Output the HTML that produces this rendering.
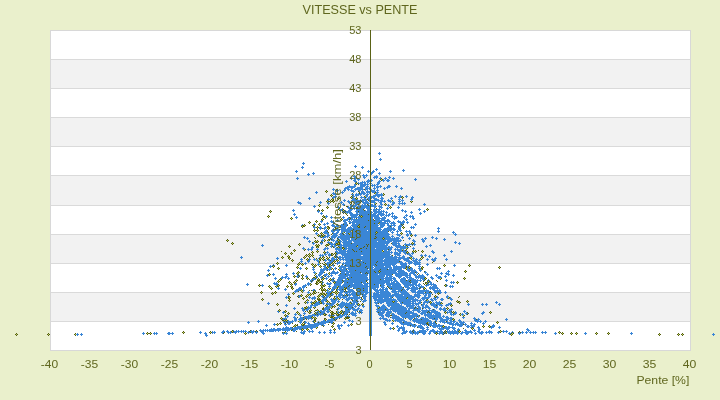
<!DOCTYPE html><html><head><meta charset="utf-8"><style>
html,body{margin:0;padding:0;width:720px;height:400px;overflow:hidden;background:#eaf0cc;}
body{position:relative;font-family:"Liberation Sans",sans-serif;}
svg{position:absolute;left:0;top:0;will-change:transform;}
text{font-family:"Liberation Sans",sans-serif;fill:#5f661e;stroke:#5f661e;stroke-width:0;}
</style></head><body>
<svg width="720" height="400" viewBox="0 0 720 400">

<g shape-rendering="crispEdges">
<rect x="50" y="30" width="640" height="29" fill="#ffffff"/>
<rect x="50" y="59" width="640" height="29" fill="#f2f2f2"/>
<rect x="50" y="88" width="640" height="29" fill="#ffffff"/>
<rect x="50" y="117" width="640" height="29" fill="#f2f2f2"/>
<rect x="50" y="146" width="640" height="29" fill="#ffffff"/>
<rect x="50" y="175" width="640" height="30" fill="#f2f2f2"/>
<rect x="50" y="205" width="640" height="29" fill="#ffffff"/>
<rect x="50" y="234" width="640" height="29" fill="#f2f2f2"/>
<rect x="50" y="263" width="640" height="29" fill="#ffffff"/>
<rect x="50" y="292" width="640" height="29" fill="#f2f2f2"/>
<rect x="50" y="321" width="640" height="29" fill="#ffffff"/>
<rect x="51" y="59" width="639" height="1" fill="#dadada"/>
<rect x="51" y="88" width="639" height="1" fill="#dadada"/>
<rect x="51" y="117" width="639" height="1" fill="#dadada"/>
<rect x="51" y="146" width="639" height="1" fill="#dadada"/>
<rect x="51" y="175" width="639" height="1" fill="#dadada"/>
<rect x="51" y="205" width="639" height="1" fill="#dadada"/>
<rect x="51" y="234" width="639" height="1" fill="#dadada"/>
<rect x="51" y="263" width="639" height="1" fill="#dadada"/>
<rect x="51" y="292" width="639" height="1" fill="#dadada"/>
<rect x="51" y="321" width="639" height="1" fill="#dadada"/>
<rect x="50" y="30" width="641" height="1" fill="#d8d8d8"/>
<rect x="50" y="350" width="641" height="1" fill="#d8d8d8"/>
<rect x="50" y="30" width="1" height="321" fill="#d8d8d8"/>
<rect x="690" y="30" width="1" height="321" fill="#d8d8d8"/>
</g>
<path shape-rendering="crispEdges" fill="#3a86d6" d="M379 152h1v1h-1zM378 153h3v1h-3zM379 154h1v1h-1zM380 158h1v1h-1zM379 159h3v1h-3zM380 160h1v1h-1zM303 162h1v1h-1zM302 163h3v1h-3zM303 164h1v1h-1zM355 165h1v1h-1zM302 166h1v1h-1zM354 166h3v1h-3zM362 166h1v1h-1zM301 167h3v1h-3zM355 167h1v1h-1zM361 167h3v1h-3zM302 168h1v1h-1zM362 168h1v1h-1zM376 168h1v1h-1zM375 169h3v1h-3zM403 169h1v1h-1zM296 170h1v1h-1zM368 170h1v1h-1zM373 170h1v1h-1zM376 170h1v1h-1zM390 170h1v1h-1zM402 170h3v1h-3zM295 171h3v1h-3zM367 171h3v1h-3zM372 171h3v1h-3zM389 171h3v1h-3zM403 171h1v1h-1zM296 172h1v1h-1zM313 172h1v1h-1zM368 172h1v1h-1zM371 172h3v1h-3zM379 172h1v1h-1zM390 172h1v1h-1zM308 173h1v1h-1zM312 173h3v1h-3zM370 173h3v1h-3zM378 173h3v1h-3zM307 174h3v1h-3zM313 174h1v1h-1zM363 174h1v1h-1zM366 174h1v1h-1zM371 174h1v1h-1zM379 174h1v1h-1zM308 175h1v1h-1zM354 175h1v1h-1zM362 175h6v1h-6zM376 175h1v1h-1zM353 176h3v1h-3zM363 176h2v1h-2zM366 176h1v1h-1zM374 176h4v1h-4zM389 176h1v1h-1zM297 177h1v1h-1zM351 177h1v1h-1zM354 177h2v1h-2zM363 177h3v1h-3zM373 177h5v1h-5zM380 177h1v1h-1zM385 177h1v1h-1zM388 177h3v1h-3zM393 177h1v1h-1zM296 178h3v1h-3zM350 178h3v1h-3zM354 178h3v1h-3zM358 178h1v1h-1zM364 178h1v1h-1zM374 178h1v1h-1zM376 178h1v1h-1zM379 178h2v1h-2zM384 178h3v1h-3zM389 178h1v1h-1zM392 178h3v1h-3zM415 178h1v1h-1zM297 179h1v1h-1zM351 179h1v1h-1zM354 179h2v1h-2zM357 179h3v1h-3zM368 179h1v1h-1zM371 179h1v1h-1zM383 179h1v1h-1zM385 179h1v1h-1zM387 179h2v1h-2zM393 179h1v1h-1zM414 179h3v1h-3zM346 180h1v1h-1zM353 180h3v1h-3zM358 180h1v1h-1zM367 180h6v1h-6zM379 180h1v1h-1zM382 180h3v1h-3zM386 180h4v1h-4zM415 180h1v1h-1zM345 181h3v1h-3zM354 181h3v1h-3zM362 181h1v1h-1zM364 181h1v1h-1zM366 181h4v1h-4zM371 181h1v1h-1zM378 181h3v1h-3zM383 181h1v1h-1zM387 181h2v1h-2zM346 182h1v1h-1zM355 182h1v1h-1zM358 182h1v1h-1zM360 182h6v1h-6zM367 182h2v1h-2zM370 182h1v1h-1zM377 182h3v1h-3zM358 183h5v1h-5zM364 183h2v1h-2zM367 183h1v1h-1zM369 183h3v1h-3zM377 183h3v1h-3zM354 184h2v1h-2zM360 184h9v1h-9zM370 184h1v1h-1zM372 184h1v1h-1zM374 184h1v1h-1zM376 184h3v1h-3zM349 185h1v1h-1zM354 185h2v1h-2zM360 185h6v1h-6zM367 185h1v1h-1zM371 185h5v1h-5zM377 185h1v1h-1zM380 185h1v1h-1zM388 185h2v1h-2zM396 185h1v1h-1zM347 186h9v1h-9zM360 186h5v1h-5zM366 186h3v1h-3zM372 186h1v1h-1zM374 186h1v1h-1zM376 186h6v1h-6zM387 186h4v1h-4zM395 186h3v1h-3zM345 187h10v1h-10zM357 187h6v1h-6zM365 187h3v1h-3zM369 187h1v1h-1zM374 187h1v1h-1zM376 187h3v1h-3zM380 187h1v1h-1zM384 187h1v1h-1zM386 187h4v1h-4zM396 187h1v1h-1zM401 187h1v1h-1zM333 188h1v1h-1zM344 188h5v1h-5zM351 188h2v1h-2zM355 188h8v1h-8zM365 188h6v1h-6zM373 188h3v1h-3zM377 188h1v1h-1zM383 188h3v1h-3zM387 188h1v1h-1zM400 188h3v1h-3zM332 189h3v1h-3zM336 189h2v1h-2zM344 189h2v1h-2zM347 189h3v1h-3zM351 189h1v1h-1zM354 189h10v1h-10zM365 189h3v1h-3zM369 189h1v1h-1zM371 189h1v1h-1zM374 189h1v1h-1zM377 189h1v1h-1zM384 189h1v1h-1zM401 189h1v1h-1zM333 190h1v1h-1zM335 190h4v1h-4zM343 190h3v1h-3zM348 190h1v1h-1zM350 190h4v1h-4zM355 190h1v1h-1zM358 190h3v1h-3zM362 190h1v1h-1zM365 190h1v1h-1zM367 190h1v1h-1zM370 190h5v1h-5zM376 190h3v1h-3zM316 191h1v1h-1zM336 191h2v1h-2zM342 191h1v1h-1zM344 191h1v1h-1zM351 191h4v1h-4zM359 191h1v1h-1zM361 191h3v1h-3zM366 191h4v1h-4zM371 191h5v1h-5zM377 191h1v1h-1zM315 192h3v1h-3zM333 192h1v1h-1zM341 192h3v1h-3zM353 192h1v1h-1zM361 192h4v1h-4zM366 192h5v1h-5zM372 192h3v1h-3zM376 192h3v1h-3zM316 193h1v1h-1zM332 193h4v1h-4zM342 193h1v1h-1zM356 193h1v1h-1zM358 193h1v1h-1zM360 193h6v1h-6zM367 193h1v1h-1zM369 193h1v1h-1zM376 193h2v1h-2zM381 193h1v1h-1zM333 194h4v1h-4zM351 194h3v1h-3zM355 194h7v1h-7zM363 194h2v1h-2zM366 194h3v1h-3zM375 194h8v1h-8zM335 195h1v1h-1zM353 195h1v1h-1zM355 195h4v1h-4zM360 195h1v1h-1zM365 195h3v1h-3zM373 195h10v1h-10zM395 195h1v1h-1zM400 195h1v1h-1zM406 195h1v1h-1zM333 196h4v1h-4zM352 196h3v1h-3zM356 196h1v1h-1zM361 196h1v1h-1zM366 196h2v1h-2zM369 196h1v1h-1zM371 196h5v1h-5zM377 196h3v1h-3zM381 196h1v1h-1zM394 196h3v1h-3zM399 196h3v1h-3zM405 196h3v1h-3zM412 196h1v1h-1zM309 197h1v1h-1zM332 197h4v1h-4zM353 197h1v1h-1zM360 197h5v1h-5zM366 197h1v1h-1zM368 197h7v1h-7zM378 197h1v1h-1zM381 197h2v1h-2zM391 197h1v1h-1zM395 197h1v1h-1zM398 197h3v1h-3zM406 197h1v1h-1zM411 197h3v1h-3zM308 198h3v1h-3zM328 198h1v1h-1zM333 198h1v1h-1zM352 198h3v1h-3zM361 198h1v1h-1zM364 198h2v1h-2zM367 198h3v1h-3zM371 198h1v1h-1zM373 198h4v1h-4zM380 198h4v1h-4zM390 198h3v1h-3zM399 198h1v1h-1zM411 198h2v1h-2zM309 199h1v1h-1zM327 199h3v1h-3zM344 199h1v1h-1zM352 199h4v1h-4zM357 199h1v1h-1zM360 199h1v1h-1zM362 199h5v1h-5zM368 199h3v1h-3zM374 199h5v1h-5zM381 199h2v1h-2zM388 199h1v1h-1zM391 199h1v1h-1zM398 199h3v1h-3zM402 199h1v1h-1zM410 199h3v1h-3zM328 200h1v1h-1zM343 200h3v1h-3zM348 200h1v1h-1zM351 200h9v1h-9zM361 200h6v1h-6zM369 200h14v1h-14zM384 200h1v1h-1zM387 200h4v1h-4zM399 200h1v1h-1zM401 200h3v1h-3zM411 200h1v1h-1zM298 201h1v1h-1zM320 201h1v1h-1zM341 201h1v1h-1zM344 201h1v1h-1zM347 201h3v1h-3zM352 201h1v1h-1zM354 201h7v1h-7zM362 201h2v1h-2zM365 201h3v1h-3zM369 201h6v1h-6zM378 201h1v1h-1zM380 201h6v1h-6zM388 201h4v1h-4zM393 201h1v1h-1zM398 201h3v1h-3zM402 201h1v1h-1zM297 202h4v1h-4zM319 202h3v1h-3zM328 202h1v1h-1zM340 202h3v1h-3zM348 202h3v1h-3zM353 202h7v1h-7zM362 202h7v1h-7zM370 202h6v1h-6zM379 202h3v1h-3zM384 202h1v1h-1zM390 202h1v1h-1zM392 202h3v1h-3zM399 202h1v1h-1zM402 202h1v1h-1zM404 202h1v1h-1zM298 203h4v1h-4zM320 203h1v1h-1zM327 203h3v1h-3zM341 203h1v1h-1zM343 203h1v1h-1zM349 203h1v1h-1zM354 203h6v1h-6zM363 203h7v1h-7zM374 203h1v1h-1zM380 203h2v1h-2zM392 203h3v1h-3zM398 203h8v1h-8zM424 203h1v1h-1zM300 204h1v1h-1zM328 204h1v1h-1zM342 204h3v1h-3zM351 204h1v1h-1zM355 204h4v1h-4zM362 204h1v1h-1zM364 204h2v1h-2zM368 204h1v1h-1zM371 204h2v1h-2zM374 204h1v1h-1zM380 204h3v1h-3zM388 204h1v1h-1zM391 204h3v1h-3zM399 204h1v1h-1zM402 204h1v1h-1zM404 204h1v1h-1zM423 204h3v1h-3zM314 205h1v1h-1zM343 205h1v1h-1zM350 205h7v1h-7zM358 205h1v1h-1zM361 205h7v1h-7zM369 205h7v1h-7zM379 205h1v1h-1zM381 205h1v1h-1zM387 205h3v1h-3zM392 205h1v1h-1zM424 205h1v1h-1zM313 206h3v1h-3zM338 206h1v1h-1zM348 206h1v1h-1zM350 206h6v1h-6zM357 206h20v1h-20zM378 206h4v1h-4zM388 206h1v1h-1zM398 206h1v1h-1zM314 207h1v1h-1zM337 207h3v1h-3zM347 207h5v1h-5zM353 207h2v1h-2zM356 207h1v1h-1zM358 207h13v1h-13zM374 207h2v1h-2zM379 207h4v1h-4zM387 207h1v1h-1zM397 207h3v1h-3zM338 208h1v1h-1zM342 208h1v1h-1zM348 208h4v1h-4zM353 208h3v1h-3zM357 208h8v1h-8zM366 208h5v1h-5zM374 208h1v1h-1zM379 208h1v1h-1zM381 208h1v1h-1zM386 208h3v1h-3zM398 208h1v1h-1zM419 208h1v1h-1zM293 209h1v1h-1zM340 209h3v1h-3zM349 209h4v1h-4zM354 209h1v1h-1zM356 209h7v1h-7zM367 209h5v1h-5zM373 209h8v1h-8zM387 209h1v1h-1zM402 209h1v1h-1zM418 209h3v1h-3zM292 210h3v1h-3zM318 210h1v1h-1zM339 210h3v1h-3zM345 210h1v1h-1zM348 210h4v1h-4zM356 210h8v1h-8zM365 210h1v1h-1zM367 210h4v1h-4zM373 210h4v1h-4zM378 210h2v1h-2zM381 210h1v1h-1zM383 210h1v1h-1zM401 210h3v1h-3zM405 210h1v1h-1zM419 210h1v1h-1zM424 210h1v1h-1zM293 211h1v1h-1zM317 211h3v1h-3zM340 211h1v1h-1zM342 211h1v1h-1zM344 211h1v1h-1zM346 211h5v1h-5zM355 211h3v1h-3zM359 211h11v1h-11zM371 211h1v1h-1zM373 211h12v1h-12zM386 211h1v1h-1zM402 211h1v1h-1zM404 211h3v1h-3zM411 211h1v1h-1zM423 211h3v1h-3zM318 212h1v1h-1zM321 212h1v1h-1zM343 212h1v1h-1zM345 212h7v1h-7zM356 212h17v1h-17zM374 212h8v1h-8zM383 212h1v1h-1zM385 212h3v1h-3zM392 212h1v1h-1zM405 212h1v1h-1zM410 212h3v1h-3zM420 212h1v1h-1zM424 212h1v1h-1zM294 213h1v1h-1zM320 213h3v1h-3zM347 213h1v1h-1zM349 213h4v1h-4zM356 213h2v1h-2zM359 213h13v1h-13zM373 213h4v1h-4zM378 213h6v1h-6zM386 213h1v1h-1zM389 213h1v1h-1zM391 213h3v1h-3zM411 213h1v1h-1zM419 213h3v1h-3zM293 214h3v1h-3zM321 214h1v1h-1zM350 214h18v1h-18zM369 214h7v1h-7zM377 214h8v1h-8zM386 214h1v1h-1zM388 214h3v1h-3zM392 214h1v1h-1zM406 214h1v1h-1zM420 214h1v1h-1zM294 215h1v1h-1zM326 215h1v1h-1zM350 215h8v1h-8zM360 215h1v1h-1zM362 215h17v1h-17zM380 215h4v1h-4zM385 215h5v1h-5zM392 215h1v1h-1zM394 215h1v1h-1zM405 215h3v1h-3zM410 215h1v1h-1zM412 215h1v1h-1zM296 216h1v1h-1zM325 216h3v1h-3zM331 216h1v1h-1zM343 216h1v1h-1zM351 216h6v1h-6zM358 216h2v1h-2zM363 216h16v1h-16zM381 216h1v1h-1zM384 216h1v1h-1zM386 216h1v1h-1zM388 216h1v1h-1zM391 216h6v1h-6zM404 216h1v1h-1zM406 216h1v1h-1zM409 216h5v1h-5zM295 217h3v1h-3zM326 217h1v1h-1zM330 217h3v1h-3zM342 217h3v1h-3zM348 217h1v1h-1zM350 217h11v1h-11zM362 217h11v1h-11zM374 217h6v1h-6zM382 217h4v1h-4zM392 217h1v1h-1zM394 217h4v1h-4zM403 217h3v1h-3zM410 217h1v1h-1zM412 217h2v1h-2zM296 218h1v1h-1zM331 218h1v1h-1zM343 218h1v1h-1zM347 218h3v1h-3zM351 218h2v1h-2zM354 218h1v1h-1zM358 218h15v1h-15zM374 218h12v1h-12zM393 218h4v1h-4zM404 218h1v1h-1zM406 218h1v1h-1zM412 218h3v1h-3zM337 219h1v1h-1zM344 219h5v1h-5zM350 219h23v1h-23zM375 219h5v1h-5zM381 219h4v1h-4zM387 219h2v1h-2zM394 219h1v1h-1zM405 219h3v1h-3zM413 219h1v1h-1zM321 220h1v1h-1zM331 220h1v1h-1zM336 220h3v1h-3zM343 220h5v1h-5zM349 220h1v1h-1zM351 220h1v1h-1zM353 220h15v1h-15zM369 220h5v1h-5zM375 220h15v1h-15zM398 220h1v1h-1zM403 220h1v1h-1zM406 220h1v1h-1zM320 221h3v1h-3zM330 221h4v1h-4zM337 221h1v1h-1zM343 221h3v1h-3zM348 221h3v1h-3zM352 221h30v1h-30zM384 221h7v1h-7zM393 221h1v1h-1zM397 221h4v1h-4zM402 221h3v1h-3zM407 221h1v1h-1zM321 222h1v1h-1zM327 222h1v1h-1zM331 222h4v1h-4zM344 222h3v1h-3zM349 222h21v1h-21zM371 222h8v1h-8zM380 222h6v1h-6zM387 222h1v1h-1zM389 222h1v1h-1zM391 222h4v1h-4zM398 222h7v1h-7zM406 222h3v1h-3zM314 223h1v1h-1zM324 223h1v1h-1zM326 223h3v1h-3zM333 223h1v1h-1zM343 223h4v1h-4zM350 223h1v1h-1zM352 223h3v1h-3zM356 223h18v1h-18zM375 223h3v1h-3zM380 223h9v1h-9zM390 223h6v1h-6zM400 223h4v1h-4zM407 223h1v1h-1zM415 223h1v1h-1zM302 224h1v1h-1zM314 224h2v1h-2zM323 224h3v1h-3zM327 224h1v1h-1zM332 224h2v1h-2zM337 224h1v1h-1zM341 224h2v1h-2zM344 224h4v1h-4zM352 224h7v1h-7zM360 224h18v1h-18zM379 224h6v1h-6zM387 224h2v1h-2zM391 224h1v1h-1zM393 224h2v1h-2zM400 224h1v1h-1zM402 224h1v1h-1zM414 224h3v1h-3zM301 225h1v1h-1zM324 225h1v1h-1zM331 225h4v1h-4zM336 225h3v1h-3zM340 225h7v1h-7zM351 225h7v1h-7zM359 225h20v1h-20zM380 225h5v1h-5zM387 225h9v1h-9zM399 225h3v1h-3zM415 225h1v1h-1zM314 226h1v1h-1zM320 226h1v1h-1zM325 226h1v1h-1zM332 226h7v1h-7zM341 226h6v1h-6zM350 226h1v1h-1zM352 226h5v1h-5zM360 226h5v1h-5zM366 226h12v1h-12zM380 226h4v1h-4zM388 226h2v1h-2zM391 226h1v1h-1zM394 226h1v1h-1zM398 226h4v1h-4zM411 226h1v1h-1zM413 226h1v1h-1zM313 227h3v1h-3zM319 227h3v1h-3zM324 227h3v1h-3zM334 227h1v1h-1zM337 227h1v1h-1zM340 227h6v1h-6zM348 227h4v1h-4zM353 227h5v1h-5zM360 227h4v1h-4zM365 227h18v1h-18zM387 227h5v1h-5zM393 227h1v1h-1zM398 227h3v1h-3zM410 227h5v1h-5zM438 227h1v1h-1zM314 228h1v1h-1zM319 228h3v1h-3zM323 228h3v1h-3zM333 228h1v1h-1zM336 228h1v1h-1zM341 228h5v1h-5zM347 228h34v1h-34zM384 228h11v1h-11zM398 228h3v1h-3zM411 228h1v1h-1zM413 228h1v1h-1zM437 228h3v1h-3zM320 229h1v1h-1zM324 229h1v1h-1zM326 229h1v1h-1zM332 229h7v1h-7zM340 229h13v1h-13zM354 229h28v1h-28zM383 229h13v1h-13zM398 229h3v1h-3zM438 229h1v1h-1zM325 230h3v1h-3zM331 230h9v1h-9zM341 230h15v1h-15zM357 230h10v1h-10zM368 230h13v1h-13zM382 230h10v1h-10zM393 230h2v1h-2zM397 230h1v1h-1zM399 230h3v1h-3zM406 230h1v1h-1zM409 230h1v1h-1zM438 230h1v1h-1zM324 231h3v1h-3zM331 231h4v1h-4zM337 231h2v1h-2zM341 231h10v1h-10zM352 231h3v1h-3zM357 231h19v1h-19zM377 231h11v1h-11zM390 231h1v1h-1zM392 231h1v1h-1zM396 231h3v1h-3zM400 231h1v1h-1zM405 231h6v1h-6zM437 231h3v1h-3zM453 231h1v1h-1zM316 232h1v1h-1zM323 232h5v1h-5zM332 232h2v1h-2zM336 232h3v1h-3zM341 232h2v1h-2zM346 232h10v1h-10zM357 232h18v1h-18zM378 232h10v1h-10zM391 232h3v1h-3zM397 232h1v1h-1zM406 232h1v1h-1zM409 232h2v1h-2zM438 232h1v1h-1zM452 232h3v1h-3zM315 233h3v1h-3zM324 233h5v1h-5zM333 233h5v1h-5zM340 233h2v1h-2zM343 233h1v1h-1zM345 233h3v1h-3zM350 233h2v1h-2zM353 233h5v1h-5zM360 233h16v1h-16zM377 233h12v1h-12zM392 233h1v1h-1zM397 233h1v1h-1zM407 233h1v1h-1zM409 233h3v1h-3zM453 233h1v1h-1zM455 233h1v1h-1zM316 234h1v1h-1zM327 234h2v1h-2zM333 234h4v1h-4zM339 234h4v1h-4zM344 234h1v1h-1zM346 234h3v1h-3zM350 234h9v1h-9zM360 234h15v1h-15zM376 234h14v1h-14zM396 234h4v1h-4zM406 234h3v1h-3zM410 234h1v1h-1zM415 234h1v1h-1zM454 234h3v1h-3zM320 235h1v1h-1zM325 235h1v1h-1zM327 235h3v1h-3zM332 235h6v1h-6zM340 235h49v1h-49zM392 235h1v1h-1zM397 235h4v1h-4zM406 235h3v1h-3zM414 235h3v1h-3zM455 235h1v1h-1zM304 236h1v1h-1zM319 236h1v1h-1zM324 236h5v1h-5zM331 236h6v1h-6zM338 236h37v1h-37zM376 236h14v1h-14zM391 236h3v1h-3zM399 236h1v1h-1zM402 236h1v1h-1zM407 236h1v1h-1zM415 236h1v1h-1zM432 236h1v1h-1zM303 237h3v1h-3zM307 237h1v1h-1zM320 237h1v1h-1zM322 237h4v1h-4zM327 237h1v1h-1zM331 237h5v1h-5zM337 237h39v1h-39zM377 237h6v1h-6zM384 237h7v1h-7zM392 237h1v1h-1zM394 237h1v1h-1zM396 237h3v1h-3zM401 237h3v1h-3zM409 237h1v1h-1zM425 237h1v1h-1zM431 237h3v1h-3zM436 237h1v1h-1zM304 238h1v1h-1zM306 238h3v1h-3zM323 238h1v1h-1zM331 238h2v1h-2zM334 238h1v1h-1zM338 238h1v1h-1zM340 238h10v1h-10zM351 238h5v1h-5zM357 238h17v1h-17zM376 238h6v1h-6zM385 238h15v1h-15zM402 238h1v1h-1zM408 238h3v1h-3zM422 238h1v1h-1zM424 238h3v1h-3zM432 238h1v1h-1zM435 238h3v1h-3zM444 238h1v1h-1zM307 239h1v1h-1zM322 239h1v1h-1zM330 239h1v1h-1zM332 239h2v1h-2zM337 239h1v1h-1zM339 239h1v1h-1zM341 239h9v1h-9zM351 239h4v1h-4zM356 239h27v1h-27zM384 239h15v1h-15zM400 239h1v1h-1zM409 239h1v1h-1zM413 239h1v1h-1zM421 239h3v1h-3zM425 239h1v1h-1zM436 239h1v1h-1zM443 239h3v1h-3zM309 240h1v1h-1zM321 240h3v1h-3zM331 240h4v1h-4zM336 240h1v1h-1zM340 240h1v1h-1zM342 240h5v1h-5zM348 240h38v1h-38zM387 240h15v1h-15zM412 240h3v1h-3zM422 240h3v1h-3zM444 240h1v1h-1zM308 241h3v1h-3zM322 241h1v1h-1zM328 241h1v1h-1zM333 241h1v1h-1zM335 241h3v1h-3zM339 241h3v1h-3zM343 241h9v1h-9zM353 241h24v1h-24zM378 241h14v1h-14zM393 241h8v1h-8zM413 241h3v1h-3zM422 241h3v1h-3zM455 241h1v1h-1zM309 242h1v1h-1zM313 242h1v1h-1zM321 242h1v1h-1zM327 242h4v1h-4zM335 242h3v1h-3zM340 242h1v1h-1zM342 242h10v1h-10zM354 242h36v1h-36zM392 242h5v1h-5zM398 242h1v1h-1zM414 242h1v1h-1zM423 242h1v1h-1zM454 242h3v1h-3zM459 242h1v1h-1zM312 243h3v1h-3zM320 243h3v1h-3zM329 243h4v1h-4zM334 243h2v1h-2zM340 243h1v1h-1zM343 243h8v1h-8zM352 243h37v1h-37zM392 243h8v1h-8zM405 243h1v1h-1zM409 243h1v1h-1zM414 243h1v1h-1zM455 243h1v1h-1zM458 243h3v1h-3zM262 244h1v1h-1zM313 244h1v1h-1zM321 244h1v1h-1zM330 244h5v1h-5zM340 244h2v1h-2zM343 244h23v1h-23zM367 244h1v1h-1zM370 244h15v1h-15zM386 244h2v1h-2zM392 244h5v1h-5zM398 244h2v1h-2zM404 244h8v1h-8zM413 244h3v1h-3zM430 244h1v1h-1zM459 244h1v1h-1zM261 245h3v1h-3zM331 245h2v1h-2zM334 245h2v1h-2zM337 245h20v1h-20zM358 245h9v1h-9zM368 245h20v1h-20zM393 245h8v1h-8zM405 245h1v1h-1zM407 245h3v1h-3zM412 245h1v1h-1zM414 245h1v1h-1zM426 245h1v1h-1zM429 245h3v1h-3zM262 246h1v1h-1zM312 246h1v1h-1zM330 246h2v1h-2zM333 246h3v1h-3zM339 246h3v1h-3zM343 246h13v1h-13zM358 246h6v1h-6zM365 246h2v1h-2zM368 246h19v1h-19zM388 246h2v1h-2zM391 246h1v1h-1zM395 246h11v1h-11zM425 246h3v1h-3zM430 246h1v1h-1zM303 247h1v1h-1zM311 247h3v1h-3zM325 247h1v1h-1zM327 247h1v1h-1zM331 247h1v1h-1zM334 247h1v1h-1zM336 247h1v1h-1zM340 247h2v1h-2zM344 247h3v1h-3zM348 247h15v1h-15zM364 247h29v1h-29zM396 247h13v1h-13zM413 247h1v1h-1zM426 247h1v1h-1zM302 248h3v1h-3zM308 248h1v1h-1zM311 248h2v1h-2zM317 248h1v1h-1zM324 248h5v1h-5zM335 248h7v1h-7zM345 248h15v1h-15zM362 248h4v1h-4zM367 248h8v1h-8zM376 248h16v1h-16zM395 248h1v1h-1zM397 248h1v1h-1zM400 248h6v1h-6zM412 248h3v1h-3zM303 249h1v1h-1zM307 249h6v1h-6zM316 249h3v1h-3zM323 249h3v1h-3zM327 249h1v1h-1zM335 249h7v1h-7zM344 249h3v1h-3zM348 249h4v1h-4zM353 249h6v1h-6zM360 249h28v1h-28zM389 249h3v1h-3zM394 249h8v1h-8zM403 249h1v1h-1zM413 249h1v1h-1zM308 250h1v1h-1zM311 250h1v1h-1zM324 250h1v1h-1zM336 250h1v1h-1zM338 250h8v1h-8zM347 250h6v1h-6zM354 250h28v1h-28zM384 250h3v1h-3zM388 250h3v1h-3zM395 250h1v1h-1zM397 250h5v1h-5zM403 250h2v1h-2zM406 250h1v1h-1zM432 250h1v1h-1zM451 250h1v1h-1zM327 251h1v1h-1zM335 251h3v1h-3zM339 251h15v1h-15zM355 251h1v1h-1zM357 251h4v1h-4zM362 251h20v1h-20zM384 251h6v1h-6zM391 251h1v1h-1zM395 251h1v1h-1zM398 251h9v1h-9zM431 251h3v1h-3zM450 251h3v1h-3zM326 252h3v1h-3zM336 252h10v1h-10zM347 252h46v1h-46zM394 252h4v1h-4zM399 252h2v1h-2zM403 252h3v1h-3zM412 252h1v1h-1zM432 252h3v1h-3zM451 252h1v1h-1zM325 253h1v1h-1zM327 253h1v1h-1zM329 253h1v1h-1zM337 253h53v1h-53zM391 253h1v1h-1zM394 253h7v1h-7zM404 253h3v1h-3zM408 253h2v1h-2zM411 253h3v1h-3zM433 253h1v1h-1zM320 254h1v1h-1zM322 254h1v1h-1zM324 254h3v1h-3zM328 254h3v1h-3zM336 254h2v1h-2zM341 254h50v1h-50zM394 254h6v1h-6zM405 254h1v1h-1zM407 254h4v1h-4zM412 254h1v1h-1zM421 254h1v1h-1zM425 254h1v1h-1zM444 254h1v1h-1zM319 255h5v1h-5zM325 255h1v1h-1zM328 255h3v1h-3zM336 255h1v1h-1zM342 255h19v1h-19zM363 255h27v1h-27zM391 255h1v1h-1zM395 255h1v1h-1zM397 255h4v1h-4zM403 255h1v1h-1zM409 255h3v1h-3zM420 255h3v1h-3zM424 255h3v1h-3zM429 255h1v1h-1zM443 255h3v1h-3zM241 256h1v1h-1zM320 256h1v1h-1zM322 256h1v1h-1zM329 256h1v1h-1zM335 256h1v1h-1zM337 256h1v1h-1zM339 256h2v1h-2zM342 256h1v1h-1zM344 256h49v1h-49zM394 256h3v1h-3zM399 256h1v1h-1zM402 256h3v1h-3zM410 256h3v1h-3zM421 256h1v1h-1zM425 256h1v1h-1zM428 256h3v1h-3zM444 256h1v1h-1zM240 257h3v1h-3zM277 257h1v1h-1zM319 257h1v1h-1zM332 257h2v1h-2zM336 257h1v1h-1zM338 257h67v1h-67zM407 257h2v1h-2zM413 257h1v1h-1zM429 257h1v1h-1zM435 257h1v1h-1zM241 258h1v1h-1zM276 258h3v1h-3zM301 258h1v1h-1zM309 258h1v1h-1zM314 258h1v1h-1zM318 258h1v1h-1zM331 258h4v1h-4zM336 258h1v1h-1zM339 258h2v1h-2zM342 258h2v1h-2zM345 258h39v1h-39zM385 258h12v1h-12zM398 258h12v1h-12zM412 258h3v1h-3zM416 258h1v1h-1zM427 258h1v1h-1zM432 258h1v1h-1zM434 258h3v1h-3zM446 258h1v1h-1zM277 259h1v1h-1zM300 259h3v1h-3zM309 259h2v1h-2zM313 259h3v1h-3zM317 259h1v1h-1zM325 259h1v1h-1zM328 259h2v1h-2zM331 259h6v1h-6zM339 259h44v1h-44zM384 259h17v1h-17zM403 259h6v1h-6zM413 259h1v1h-1zM415 259h3v1h-3zM419 259h1v1h-1zM426 259h3v1h-3zM431 259h5v1h-5zM445 259h3v1h-3zM301 260h1v1h-1zM308 260h2v1h-2zM314 260h1v1h-1zM316 260h3v1h-3zM324 260h3v1h-3zM328 260h2v1h-2zM331 260h3v1h-3zM340 260h1v1h-1zM343 260h1v1h-1zM345 260h16v1h-16zM362 260h38v1h-38zM404 260h6v1h-6zM412 260h5v1h-5zM418 260h3v1h-3zM427 260h1v1h-1zM432 260h4v1h-4zM446 260h1v1h-1zM300 261h3v1h-3zM307 261h3v1h-3zM317 261h2v1h-2zM325 261h1v1h-1zM329 261h4v1h-4zM339 261h1v1h-1zM346 261h31v1h-31zM378 261h21v1h-21zM400 261h2v1h-2zM406 261h6v1h-6zM413 261h5v1h-5zM419 261h1v1h-1zM434 261h1v1h-1zM301 262h1v1h-1zM305 262h1v1h-1zM308 262h1v1h-1zM318 262h1v1h-1zM327 262h5v1h-5zM337 262h4v1h-4zM343 262h1v1h-1zM345 262h18v1h-18zM364 262h12v1h-12zM377 262h6v1h-6zM384 262h19v1h-19zM405 262h1v1h-1zM408 262h5v1h-5zM414 262h7v1h-7zM304 263h3v1h-3zM318 263h1v1h-1zM326 263h5v1h-5zM336 263h4v1h-4zM342 263h23v1h-23zM366 263h31v1h-31zM400 263h7v1h-7zM408 263h4v1h-4zM413 263h7v1h-7zM427 263h1v1h-1zM273 264h1v1h-1zM286 264h1v1h-1zM305 264h1v1h-1zM317 264h3v1h-3zM327 264h2v1h-2zM333 264h1v1h-1zM337 264h1v1h-1zM343 264h1v1h-1zM345 264h30v1h-30zM376 264h20v1h-20zM400 264h7v1h-7zM409 264h1v1h-1zM414 264h7v1h-7zM426 264h3v1h-3zM454 264h1v1h-1zM270 265h1v1h-1zM272 265h1v1h-1zM274 265h1v1h-1zM285 265h3v1h-3zM318 265h1v1h-1zM324 265h1v1h-1zM327 265h2v1h-2zM332 265h2v1h-2zM341 265h2v1h-2zM344 265h1v1h-1zM346 265h4v1h-4zM351 265h1v1h-1zM353 265h23v1h-23zM377 265h14v1h-14zM392 265h3v1h-3zM396 265h1v1h-1zM401 265h6v1h-6zM408 265h1v1h-1zM415 265h1v1h-1zM419 265h1v1h-1zM427 265h1v1h-1zM453 265h3v1h-3zM269 266h3v1h-3zM286 266h1v1h-1zM323 266h3v1h-3zM328 266h1v1h-1zM330 266h1v1h-1zM333 266h1v1h-1zM340 266h26v1h-26zM367 266h6v1h-6zM374 266h10v1h-10zM385 266h6v1h-6zM393 266h13v1h-13zM407 266h2v1h-2zM418 266h3v1h-3zM454 266h1v1h-1zM270 267h1v1h-1zM300 267h1v1h-1zM312 267h2v1h-2zM324 267h2v1h-2zM329 267h3v1h-3zM335 267h1v1h-1zM339 267h7v1h-7zM348 267h17v1h-17zM366 267h8v1h-8zM375 267h17v1h-17zM393 267h13v1h-13zM407 267h1v1h-1zM411 267h1v1h-1zM419 267h1v1h-1zM437 267h1v1h-1zM439 267h1v1h-1zM299 268h3v1h-3zM313 268h1v1h-1zM321 268h1v1h-1zM323 268h4v1h-4zM329 268h2v1h-2zM334 268h2v1h-2zM339 268h3v1h-3zM343 268h24v1h-24zM368 268h3v1h-3zM372 268h1v1h-1zM374 268h14v1h-14zM389 268h3v1h-3zM393 268h9v1h-9zM403 268h2v1h-2zM407 268h2v1h-2zM410 268h3v1h-3zM418 268h3v1h-3zM436 268h5v1h-5zM268 269h1v1h-1zM300 269h1v1h-1zM312 269h3v1h-3zM320 269h11v1h-11zM335 269h1v1h-1zM340 269h6v1h-6zM348 269h20v1h-20zM371 269h9v1h-9zM381 269h6v1h-6zM388 269h14v1h-14zM407 269h6v1h-6zM414 269h1v1h-1zM419 269h2v1h-2zM437 269h1v1h-1zM439 269h1v1h-1zM267 270h3v1h-3zM313 270h1v1h-1zM320 270h5v1h-5zM326 270h1v1h-1zM329 270h1v1h-1zM333 270h1v1h-1zM340 270h8v1h-8zM349 270h6v1h-6zM356 270h13v1h-13zM371 270h8v1h-8zM380 270h17v1h-17zM398 270h6v1h-6zM407 270h9v1h-9zM419 270h3v1h-3zM448 270h1v1h-1zM268 271h1v1h-1zM314 271h1v1h-1zM320 271h4v1h-4zM332 271h3v1h-3zM337 271h1v1h-1zM341 271h28v1h-28zM372 271h2v1h-2zM375 271h3v1h-3zM381 271h15v1h-15zM397 271h8v1h-8zM408 271h2v1h-2zM411 271h6v1h-6zM420 271h1v1h-1zM425 271h1v1h-1zM447 271h3v1h-3zM293 272h1v1h-1zM313 272h3v1h-3zM319 272h5v1h-5zM331 272h8v1h-8zM341 272h4v1h-4zM346 272h14v1h-14zM361 272h5v1h-5zM367 272h2v1h-2zM372 272h3v1h-3zM376 272h3v1h-3zM380 272h17v1h-17zM398 272h9v1h-9zM410 272h5v1h-5zM416 272h2v1h-2zM424 272h3v1h-3zM441 272h1v1h-1zM446 272h1v1h-1zM448 272h1v1h-1zM273 273h1v1h-1zM286 273h1v1h-1zM292 273h3v1h-3zM314 273h1v1h-1zM319 273h4v1h-4zM326 273h1v1h-1zM330 273h8v1h-8zM341 273h8v1h-8zM350 273h11v1h-11zM362 273h3v1h-3zM366 273h1v1h-1zM368 273h1v1h-1zM371 273h37v1h-37zM409 273h6v1h-6zM416 273h1v1h-1zM425 273h1v1h-1zM427 273h1v1h-1zM440 273h3v1h-3zM445 273h4v1h-4zM267 274h1v1h-1zM272 274h3v1h-3zM285 274h3v1h-3zM293 274h1v1h-1zM298 274h1v1h-1zM318 274h4v1h-4zM324 274h4v1h-4zM331 274h1v1h-1zM335 274h1v1h-1zM339 274h6v1h-6zM346 274h22v1h-22zM371 274h7v1h-7zM379 274h13v1h-13zM395 274h13v1h-13zM409 274h2v1h-2zM413 274h3v1h-3zM419 274h1v1h-1zM422 274h1v1h-1zM426 274h3v1h-3zM436 274h1v1h-1zM441 274h1v1h-1zM446 274h4v1h-4zM453 274h1v1h-1zM266 275h3v1h-3zM273 275h1v1h-1zM286 275h1v1h-1zM297 275h1v1h-1zM299 275h1v1h-1zM306 275h1v1h-1zM316 275h1v1h-1zM318 275h3v1h-3zM324 275h3v1h-3zM328 275h1v1h-1zM330 275h3v1h-3zM338 275h30v1h-30zM371 275h14v1h-14zM386 275h6v1h-6zM395 275h16v1h-16zM414 275h3v1h-3zM418 275h6v1h-6zM427 275h1v1h-1zM435 275h3v1h-3zM445 275h1v1h-1zM448 275h1v1h-1zM452 275h3v1h-3zM267 276h1v1h-1zM282 276h1v1h-1zM285 276h3v1h-3zM296 276h3v1h-3zM305 276h3v1h-3zM316 276h2v1h-2zM319 276h1v1h-1zM321 276h1v1h-1zM324 276h1v1h-1zM327 276h3v1h-3zM331 276h1v1h-1zM339 276h9v1h-9zM349 276h18v1h-18zM372 276h13v1h-13zM386 276h2v1h-2zM389 276h4v1h-4zM396 276h6v1h-6zM405 276h3v1h-3zM409 276h2v1h-2zM415 276h10v1h-10zM431 276h1v1h-1zM436 276h1v1h-1zM438 276h3v1h-3zM444 276h3v1h-3zM453 276h1v1h-1zM275 277h1v1h-1zM281 277h6v1h-6zM288 277h1v1h-1zM297 277h1v1h-1zM306 277h1v1h-1zM317 277h1v1h-1zM320 277h3v1h-3zM326 277h1v1h-1zM328 277h1v1h-1zM333 277h1v1h-1zM338 277h8v1h-8zM347 277h4v1h-4zM352 277h16v1h-16zM371 277h13v1h-13zM385 277h7v1h-7zM393 277h2v1h-2zM398 277h3v1h-3zM403 277h2v1h-2zM406 277h6v1h-6zM415 277h10v1h-10zM430 277h3v1h-3zM437 277h5v1h-5zM445 277h1v1h-1zM274 278h3v1h-3zM281 278h2v1h-2zM285 278h1v1h-1zM287 278h3v1h-3zM313 278h2v1h-2zM316 278h1v1h-1zM321 278h1v1h-1zM325 278h3v1h-3zM332 278h3v1h-3zM338 278h9v1h-9zM348 278h20v1h-20zM371 278h25v1h-25zM399 278h1v1h-1zM401 278h5v1h-5zM407 278h1v1h-1zM409 278h5v1h-5zM416 278h1v1h-1zM418 278h1v1h-1zM420 278h4v1h-4zM431 278h3v1h-3zM438 278h2v1h-2zM275 279h1v1h-1zM288 279h1v1h-1zM311 279h5v1h-5zM326 279h1v1h-1zM332 279h1v1h-1zM337 279h6v1h-6zM345 279h2v1h-2zM349 279h20v1h-20zM372 279h8v1h-8zM381 279h3v1h-3zM385 279h7v1h-7zM393 279h3v1h-3zM400 279h6v1h-6zM408 279h8v1h-8zM417 279h1v1h-1zM420 279h1v1h-1zM422 279h3v1h-3zM428 279h1v1h-1zM432 279h1v1h-1zM446 279h1v1h-1zM310 280h2v1h-2zM313 280h1v1h-1zM331 280h4v1h-4zM337 280h5v1h-5zM343 280h23v1h-23zM367 280h1v1h-1zM371 280h22v1h-22zM394 280h3v1h-3zM400 280h6v1h-6zM407 280h3v1h-3zM411 280h11v1h-11zM423 280h1v1h-1zM427 280h1v1h-1zM429 280h1v1h-1zM445 280h3v1h-3zM310 281h1v1h-1zM312 281h1v1h-1zM322 281h1v1h-1zM332 281h2v1h-2zM335 281h8v1h-8zM344 281h22v1h-22zM372 281h18v1h-18zM391 281h1v1h-1zM393 281h5v1h-5zM400 281h9v1h-9zM410 281h8v1h-8zM420 281h1v1h-1zM430 281h1v1h-1zM446 281h1v1h-1zM451 281h1v1h-1zM453 281h1v1h-1zM274 282h1v1h-1zM276 282h1v1h-1zM308 282h1v1h-1zM311 282h1v1h-1zM323 282h1v1h-1zM327 282h1v1h-1zM330 282h1v1h-1zM336 282h6v1h-6zM344 282h3v1h-3zM348 282h13v1h-13zM362 282h4v1h-4zM372 282h18v1h-18zM391 282h4v1h-4zM396 282h3v1h-3zM401 282h9v1h-9zM411 282h7v1h-7zM427 282h1v1h-1zM429 282h3v1h-3zM450 282h5v1h-5zM247 283h1v1h-1zM273 283h5v1h-5zM295 283h2v1h-2zM307 283h3v1h-3zM322 283h1v1h-1zM326 283h6v1h-6zM335 283h7v1h-7zM344 283h9v1h-9zM354 283h8v1h-8zM363 283h6v1h-6zM371 283h14v1h-14zM386 283h14v1h-14zM402 283h9v1h-9zM412 283h5v1h-5zM419 283h1v1h-1zM428 283h1v1h-1zM430 283h2v1h-2zM433 283h1v1h-1zM451 283h1v1h-1zM453 283h1v1h-1zM246 284h3v1h-3zM262 284h1v1h-1zM274 284h4v1h-4zM294 284h3v1h-3zM305 284h1v1h-1zM307 284h3v1h-3zM322 284h1v1h-1zM327 284h4v1h-4zM334 284h7v1h-7zM343 284h20v1h-20zM364 284h4v1h-4zM372 284h2v1h-2zM375 284h4v1h-4zM380 284h4v1h-4zM386 284h15v1h-15zM403 284h14v1h-14zM418 284h3v1h-3zM427 284h9v1h-9zM446 284h1v1h-1zM247 285h1v1h-1zM261 285h3v1h-3zM276 285h1v1h-1zM295 285h1v1h-1zM303 285h4v1h-4zM308 285h1v1h-1zM329 285h1v1h-1zM334 285h7v1h-7zM342 285h7v1h-7zM350 285h18v1h-18zM372 285h7v1h-7zM381 285h4v1h-4zM387 285h4v1h-4zM392 285h9v1h-9zM404 285h10v1h-10zM415 285h5v1h-5zM421 285h1v1h-1zM425 285h4v1h-4zM431 285h1v1h-1zM433 285h4v1h-4zM447 285h1v1h-1zM450 285h1v1h-1zM452 285h1v1h-1zM262 286h1v1h-1zM302 286h4v1h-4zM328 286h3v1h-3zM333 286h4v1h-4zM339 286h9v1h-9zM349 286h20v1h-20zM372 286h7v1h-7zM380 286h4v1h-4zM388 286h14v1h-14zM404 286h5v1h-5zM410 286h1v1h-1zM412 286h3v1h-3zM416 286h1v1h-1zM418 286h6v1h-6zM426 286h1v1h-1zM430 286h1v1h-1zM432 286h5v1h-5zM446 286h1v1h-1zM449 286h5v1h-5zM278 287h1v1h-1zM299 287h2v1h-2zM302 287h3v1h-3zM329 287h1v1h-1zM332 287h5v1h-5zM338 287h6v1h-6zM345 287h1v1h-1zM347 287h5v1h-5zM353 287h15v1h-15zM372 287h7v1h-7zM381 287h4v1h-4zM386 287h1v1h-1zM389 287h14v1h-14zM405 287h5v1h-5zM411 287h7v1h-7zM419 287h1v1h-1zM421 287h3v1h-3zM429 287h9v1h-9zM450 287h1v1h-1zM452 287h1v1h-1zM277 288h3v1h-3zM285 288h1v1h-1zM298 288h4v1h-4zM303 288h1v1h-1zM332 288h4v1h-4zM339 288h5v1h-5zM347 288h3v1h-3zM354 288h4v1h-4zM359 288h4v1h-4zM364 288h4v1h-4zM372 288h4v1h-4zM377 288h1v1h-1zM380 288h1v1h-1zM382 288h2v1h-2zM385 288h3v1h-3zM390 288h1v1h-1zM392 288h12v1h-12zM407 288h12v1h-12zM420 288h1v1h-1zM429 288h10v1h-10zM278 289h1v1h-1zM284 289h3v1h-3zM296 289h5v1h-5zM303 289h1v1h-1zM313 289h2v1h-2zM327 289h1v1h-1zM331 289h3v1h-3zM337 289h5v1h-5zM343 289h1v1h-1zM347 289h6v1h-6zM356 289h12v1h-12zM373 289h5v1h-5zM379 289h9v1h-9zM390 289h12v1h-12zM403 289h2v1h-2zM406 289h3v1h-3zM411 289h7v1h-7zM419 289h1v1h-1zM423 289h1v1h-1zM426 289h1v1h-1zM430 289h1v1h-1zM432 289h3v1h-3zM437 289h1v1h-1zM439 289h1v1h-1zM285 290h1v1h-1zM295 290h5v1h-5zM303 290h2v1h-2zM312 290h2v1h-2zM315 290h1v1h-1zM327 290h2v1h-2zM331 290h3v1h-3zM337 290h1v1h-1zM339 290h5v1h-5zM348 290h6v1h-6zM356 290h7v1h-7zM364 290h4v1h-4zM374 290h10v1h-10zM385 290h3v1h-3zM392 290h4v1h-4zM398 290h3v1h-3zM402 290h4v1h-4zM407 290h1v1h-1zM410 290h6v1h-6zM418 290h11v1h-11zM433 290h8v1h-8zM294 291h4v1h-4zM303 291h1v1h-1zM308 291h1v1h-1zM327 291h1v1h-1zM329 291h3v1h-3zM340 291h4v1h-4zM345 291h1v1h-1zM347 291h8v1h-8zM357 291h11v1h-11zM375 291h4v1h-4zM380 291h9v1h-9zM391 291h16v1h-16zM411 291h5v1h-5zM417 291h13v1h-13zM434 291h7v1h-7zM445 291h1v1h-1zM295 292h1v1h-1zM307 292h3v1h-3zM326 292h5v1h-5zM339 292h4v1h-4zM344 292h7v1h-7zM352 292h17v1h-17zM374 292h1v1h-1zM376 292h14v1h-14zM392 292h5v1h-5zM398 292h1v1h-1zM400 292h8v1h-8zM412 292h12v1h-12zM426 292h3v1h-3zM430 292h1v1h-1zM434 292h4v1h-4zM439 292h3v1h-3zM444 292h3v1h-3zM288 293h1v1h-1zM308 293h1v1h-1zM327 293h3v1h-3zM332 293h1v1h-1zM339 293h3v1h-3zM345 293h3v1h-3zM349 293h1v1h-1zM351 293h5v1h-5zM357 293h7v1h-7zM365 293h3v1h-3zM373 293h6v1h-6zM380 293h11v1h-11zM394 293h5v1h-5zM401 293h8v1h-8zM415 293h1v1h-1zM417 293h15v1h-15zM435 293h1v1h-1zM440 293h1v1h-1zM445 293h1v1h-1zM287 294h3v1h-3zM327 294h3v1h-3zM331 294h3v1h-3zM338 294h5v1h-5zM344 294h1v1h-1zM347 294h9v1h-9zM357 294h5v1h-5zM363 294h4v1h-4zM373 294h18v1h-18zM392 294h18v1h-18zM414 294h6v1h-6zM423 294h1v1h-1zM425 294h2v1h-2zM428 294h3v1h-3zM288 295h1v1h-1zM299 295h1v1h-1zM322 295h1v1h-1zM326 295h5v1h-5zM332 295h1v1h-1zM336 295h1v1h-1zM338 295h5v1h-5zM344 295h1v1h-1zM346 295h1v1h-1zM348 295h3v1h-3zM352 295h7v1h-7zM362 295h4v1h-4zM373 295h30v1h-30zM404 295h8v1h-8zM414 295h7v1h-7zM424 295h3v1h-3zM428 295h3v1h-3zM447 295h1v1h-1zM286 296h1v1h-1zM298 296h3v1h-3zM309 296h1v1h-1zM314 296h1v1h-1zM321 296h3v1h-3zM326 296h3v1h-3zM335 296h6v1h-6zM342 296h6v1h-6zM349 296h1v1h-1zM353 296h5v1h-5zM359 296h1v1h-1zM363 296h4v1h-4zM372 296h22v1h-22zM395 296h25v1h-25zM424 296h2v1h-2zM428 296h3v1h-3zM437 296h1v1h-1zM446 296h3v1h-3zM285 297h3v1h-3zM299 297h1v1h-1zM308 297h3v1h-3zM312 297h4v1h-4zM322 297h1v1h-1zM324 297h4v1h-4zM336 297h1v1h-1zM339 297h8v1h-8zM348 297h13v1h-13zM363 297h3v1h-3zM373 297h16v1h-16zM390 297h2v1h-2zM396 297h11v1h-11zM408 297h7v1h-7zM417 297h3v1h-3zM422 297h8v1h-8zM434 297h1v1h-1zM436 297h3v1h-3zM446 297h2v1h-2zM450 297h1v1h-1zM286 298h1v1h-1zM309 298h1v1h-1zM311 298h5v1h-5zM323 298h4v1h-4zM331 298h1v1h-1zM336 298h1v1h-1zM340 298h1v1h-1zM343 298h2v1h-2zM346 298h14v1h-14zM363 298h3v1h-3zM373 298h4v1h-4zM378 298h5v1h-5zM384 298h8v1h-8zM393 298h1v1h-1zM397 298h9v1h-9zM408 298h6v1h-6zM415 298h1v1h-1zM418 298h1v1h-1zM421 298h8v1h-8zM431 298h1v1h-1zM433 298h3v1h-3zM437 298h1v1h-1zM441 298h2v1h-2zM447 298h1v1h-1zM449 298h3v1h-3zM312 299h1v1h-1zM314 299h1v1h-1zM322 299h4v1h-4zM330 299h4v1h-4zM335 299h3v1h-3zM345 299h5v1h-5zM352 299h1v1h-1zM354 299h4v1h-4zM360 299h2v1h-2zM364 299h2v1h-2zM374 299h22v1h-22zM397 299h21v1h-21zM420 299h1v1h-1zM422 299h3v1h-3zM426 299h1v1h-1zM430 299h3v1h-3zM434 299h3v1h-3zM440 299h4v1h-4zM450 299h3v1h-3zM321 300h6v1h-6zM331 300h6v1h-6zM338 300h1v1h-1zM346 300h3v1h-3zM353 300h3v1h-3zM357 300h1v1h-1zM361 300h1v1h-1zM363 300h4v1h-4zM374 300h23v1h-23zM398 300h13v1h-13zM412 300h10v1h-10zM423 300h1v1h-1zM425 300h1v1h-1zM428 300h1v1h-1zM431 300h3v1h-3zM435 300h1v1h-1zM441 300h2v1h-2zM451 300h1v1h-1zM307 301h1v1h-1zM311 301h1v1h-1zM318 301h2v1h-2zM321 301h3v1h-3zM325 301h1v1h-1zM331 301h5v1h-5zM337 301h3v1h-3zM342 301h1v1h-1zM347 301h1v1h-1zM350 301h1v1h-1zM352 301h5v1h-5zM358 301h1v1h-1zM362 301h4v1h-4zM375 301h1v1h-1zM377 301h15v1h-15zM395 301h3v1h-3zM399 301h17v1h-17zM417 301h1v1h-1zM419 301h2v1h-2zM424 301h6v1h-6zM432 301h1v1h-1zM436 301h1v1h-1zM439 301h1v1h-1zM496 301h1v1h-1zM268 302h1v1h-1zM307 302h2v1h-2zM310 302h2v1h-2zM316 302h3v1h-3zM322 302h2v1h-2zM332 302h4v1h-4zM338 302h1v1h-1zM341 302h4v1h-4zM346 302h1v1h-1zM349 302h1v1h-1zM351 302h1v1h-1zM353 302h5v1h-5zM363 302h1v1h-1zM374 302h10v1h-10zM386 302h7v1h-7zM394 302h3v1h-3zM400 302h2v1h-2zM403 302h8v1h-8zM412 302h2v1h-2zM415 302h1v1h-1zM418 302h3v1h-3zM423 302h6v1h-6zM433 302h1v1h-1zM435 302h6v1h-6zM450 302h1v1h-1zM495 302h3v1h-3zM267 303h3v1h-3zM307 303h1v1h-1zM315 303h5v1h-5zM322 303h3v1h-3zM326 303h4v1h-4zM331 303h4v1h-4zM340 303h10v1h-10zM352 303h3v1h-3zM356 303h2v1h-2zM375 303h3v1h-3zM380 303h2v1h-2zM386 303h13v1h-13zM400 303h21v1h-21zM423 303h2v1h-2zM427 303h1v1h-1zM431 303h4v1h-4zM436 303h4v1h-4zM448 303h4v1h-4zM468 303h1v1h-1zM482 303h1v1h-1zM486 303h1v1h-1zM496 303h1v1h-1zM499 303h1v1h-1zM268 304h1v1h-1zM286 304h1v1h-1zM311 304h1v1h-1zM314 304h6v1h-6zM323 304h1v1h-1zM327 304h7v1h-7zM339 304h16v1h-16zM356 304h1v1h-1zM376 304h1v1h-1zM383 304h1v1h-1zM387 304h13v1h-13zM401 304h1v1h-1zM404 304h7v1h-7zM412 304h2v1h-2zM415 304h4v1h-4zM422 304h3v1h-3zM426 304h1v1h-1zM430 304h12v1h-12zM446 304h5v1h-5zM467 304h3v1h-3zM481 304h3v1h-3zM485 304h3v1h-3zM498 304h3v1h-3zM285 305h3v1h-3zM310 305h8v1h-8zM329 305h4v1h-4zM338 305h16v1h-16zM355 305h1v1h-1zM357 305h1v1h-1zM359 305h2v1h-2zM363 305h1v1h-1zM375 305h4v1h-4zM382 305h3v1h-3zM387 305h15v1h-15zM406 305h9v1h-9zM416 305h1v1h-1zM418 305h1v1h-1zM421 305h3v1h-3zM425 305h3v1h-3zM431 305h5v1h-5zM437 305h1v1h-1zM439 305h4v1h-4zM445 305h4v1h-4zM468 305h1v1h-1zM482 305h1v1h-1zM486 305h1v1h-1zM499 305h1v1h-1zM286 306h1v1h-1zM308 306h1v1h-1zM310 306h2v1h-2zM314 306h2v1h-2zM327 306h3v1h-3zM331 306h1v1h-1zM339 306h5v1h-5zM346 306h7v1h-7zM354 306h3v1h-3zM359 306h1v1h-1zM362 306h3v1h-3zM376 306h4v1h-4zM381 306h5v1h-5zM388 306h2v1h-2zM391 306h13v1h-13zM406 306h8v1h-8zM415 306h1v1h-1zM417 306h3v1h-3zM422 306h2v1h-2zM425 306h4v1h-4zM433 306h5v1h-5zM441 306h1v1h-1zM446 306h1v1h-1zM294 307h1v1h-1zM302 307h1v1h-1zM308 307h4v1h-4zM325 307h6v1h-6zM338 307h1v1h-1zM340 307h3v1h-3zM344 307h2v1h-2zM348 307h4v1h-4zM353 307h1v1h-1zM355 307h1v1h-1zM358 307h1v1h-1zM363 307h1v1h-1zM377 307h1v1h-1zM380 307h7v1h-7zM390 307h16v1h-16zM407 307h1v1h-1zM409 307h6v1h-6zM416 307h1v1h-1zM418 307h3v1h-3zM422 307h8v1h-8zM434 307h4v1h-4zM440 307h1v1h-1zM444 307h1v1h-1zM293 308h3v1h-3zM301 308h3v1h-3zM307 308h4v1h-4zM324 308h6v1h-6zM337 308h3v1h-3zM341 308h1v1h-1zM345 308h10v1h-10zM357 308h3v1h-3zM377 308h1v1h-1zM379 308h9v1h-9zM390 308h17v1h-17zM408 308h6v1h-6zM415 308h2v1h-2zM418 308h3v1h-3zM423 308h1v1h-1zM425 308h1v1h-1zM428 308h3v1h-3zM436 308h1v1h-1zM439 308h3v1h-3zM443 308h3v1h-3zM451 308h1v1h-1zM294 309h1v1h-1zM302 309h2v1h-2zM305 309h4v1h-4zM324 309h5v1h-5zM336 309h1v1h-1zM338 309h1v1h-1zM345 309h3v1h-3zM349 309h2v1h-2zM352 309h7v1h-7zM360 309h2v1h-2zM376 309h9v1h-9zM386 309h21v1h-21zM408 309h2v1h-2zM413 309h8v1h-8zM422 309h1v1h-1zM426 309h1v1h-1zM429 309h1v1h-1zM432 309h1v1h-1zM434 309h1v1h-1zM439 309h7v1h-7zM449 309h4v1h-4zM302 310h3v1h-3zM306 310h2v1h-2zM320 310h2v1h-2zM323 310h3v1h-3zM327 310h2v1h-2zM337 310h1v1h-1zM342 310h1v1h-1zM345 310h5v1h-5zM353 310h5v1h-5zM359 310h4v1h-4zM377 310h12v1h-12zM390 310h1v1h-1zM392 310h18v1h-18zM412 310h8v1h-8zM421 310h15v1h-15zM440 310h1v1h-1zM443 310h4v1h-4zM448 310h4v1h-4zM464 310h1v1h-1zM277 311h2v1h-2zM283 311h1v1h-1zM303 311h1v1h-1zM317 311h2v1h-2zM320 311h5v1h-5zM326 311h4v1h-4zM338 311h1v1h-1zM343 311h1v1h-1zM345 311h5v1h-5zM352 311h1v1h-1zM355 311h1v1h-1zM360 311h2v1h-2zM376 311h5v1h-5zM382 311h3v1h-3zM387 311h5v1h-5zM393 311h19v1h-19zM413 311h1v1h-1zM417 311h4v1h-4zM422 311h6v1h-6zM429 311h1v1h-1zM431 311h7v1h-7zM444 311h1v1h-1zM447 311h1v1h-1zM449 311h2v1h-2zM455 311h1v1h-1zM463 311h3v1h-3zM483 311h1v1h-1zM278 312h1v1h-1zM282 312h3v1h-3zM304 312h1v1h-1zM311 312h1v1h-1zM316 312h1v1h-1zM318 312h1v1h-1zM321 312h4v1h-4zM327 312h2v1h-2zM337 312h2v1h-2zM342 312h1v1h-1zM344 312h5v1h-5zM351 312h3v1h-3zM355 312h1v1h-1zM358 312h2v1h-2zM361 312h2v1h-2zM377 312h1v1h-1zM379 312h6v1h-6zM386 312h6v1h-6zM395 312h1v1h-1zM397 312h9v1h-9zM407 312h7v1h-7zM418 312h2v1h-2zM421 312h6v1h-6zM428 312h1v1h-1zM430 312h10v1h-10zM447 312h5v1h-5zM455 312h2v1h-2zM464 312h1v1h-1zM466 312h1v1h-1zM482 312h3v1h-3zM283 313h1v1h-1zM295 313h1v1h-1zM303 313h3v1h-3zM310 313h1v1h-1zM317 313h7v1h-7zM325 313h1v1h-1zM338 313h1v1h-1zM344 313h4v1h-4zM350 313h7v1h-7zM359 313h1v1h-1zM361 313h1v1h-1zM378 313h6v1h-6zM386 313h5v1h-5zM392 313h2v1h-2zM397 313h8v1h-8zM406 313h11v1h-11zM420 313h6v1h-6zM427 313h5v1h-5zM434 313h7v1h-7zM447 313h1v1h-1zM450 313h2v1h-2zM454 313h3v1h-3zM462 313h1v1h-1zM465 313h3v1h-3zM481 313h3v1h-3zM294 314h3v1h-3zM300 314h1v1h-1zM304 314h1v1h-1zM312 314h3v1h-3zM316 314h1v1h-1zM318 314h5v1h-5zM329 314h1v1h-1zM340 314h1v1h-1zM343 314h4v1h-4zM351 314h5v1h-5zM378 314h5v1h-5zM385 314h5v1h-5zM391 314h4v1h-4zM398 314h12v1h-12zM412 314h6v1h-6zM421 314h2v1h-2zM424 314h8v1h-8zM433 314h1v1h-1zM435 314h6v1h-6zM450 314h6v1h-6zM461 314h3v1h-3zM466 314h1v1h-1zM482 314h1v1h-1zM287 315h1v1h-1zM295 315h1v1h-1zM299 315h3v1h-3zM308 315h11v1h-11zM320 315h1v1h-1zM328 315h3v1h-3zM332 315h3v1h-3zM336 315h1v1h-1zM339 315h6v1h-6zM346 315h1v1h-1zM348 315h1v1h-1zM352 315h5v1h-5zM379 315h5v1h-5zM385 315h5v1h-5zM392 315h5v1h-5zM400 315h19v1h-19zM424 315h17v1h-17zM443 315h1v1h-1zM451 315h1v1h-1zM453 315h1v1h-1zM462 315h1v1h-1zM286 316h3v1h-3zM294 316h1v1h-1zM300 316h1v1h-1zM304 316h8v1h-8zM314 316h1v1h-1zM317 316h1v1h-1zM329 316h1v1h-1zM337 316h6v1h-6zM345 316h2v1h-2zM348 316h2v1h-2zM355 316h1v1h-1zM381 316h3v1h-3zM386 316h4v1h-4zM392 316h7v1h-7zM401 316h16v1h-16zM418 316h2v1h-2zM425 316h1v1h-1zM427 316h14v1h-14zM442 316h3v1h-3zM446 316h2v1h-2zM285 317h1v1h-1zM287 317h1v1h-1zM293 317h3v1h-3zM300 317h3v1h-3zM304 317h7v1h-7zM335 317h7v1h-7zM380 317h1v1h-1zM382 317h2v1h-2zM388 317h1v1h-1zM391 317h9v1h-9zM402 317h13v1h-13zM416 317h1v1h-1zM418 317h1v1h-1zM421 317h3v1h-3zM425 317h1v1h-1zM428 317h14v1h-14zM443 317h1v1h-1zM445 317h4v1h-4zM450 317h2v1h-2zM462 317h3v1h-3zM474 317h1v1h-1zM283 318h4v1h-4zM294 318h3v1h-3zM299 318h6v1h-6zM306 318h6v1h-6zM331 318h2v1h-2zM334 318h4v1h-4zM379 318h8v1h-8zM392 318h10v1h-10zM403 318h1v1h-1zM408 318h5v1h-5zM415 318h3v1h-3zM420 318h8v1h-8zM429 318h5v1h-5zM435 318h3v1h-3zM439 318h4v1h-4zM446 318h7v1h-7zM463 318h1v1h-1zM473 318h3v1h-3zM478 318h1v1h-1zM506 318h1v1h-1zM282 319h2v1h-2zM285 319h1v1h-1zM294 319h3v1h-3zM298 319h5v1h-5zM304 319h1v1h-1zM308 319h1v1h-1zM311 319h1v1h-1zM328 319h6v1h-6zM335 319h1v1h-1zM349 319h1v1h-1zM380 319h1v1h-1zM383 319h5v1h-5zM389 319h1v1h-1zM393 319h1v1h-1zM395 319h9v1h-9zM409 319h3v1h-3zM414 319h7v1h-7zM422 319h7v1h-7zM432 319h6v1h-6zM440 319h9v1h-9zM450 319h2v1h-2zM459 319h1v1h-1zM474 319h2v1h-2zM477 319h3v1h-3zM505 319h3v1h-3zM258 320h1v1h-1zM288 320h1v1h-1zM292 320h1v1h-1zM294 320h3v1h-3zM299 320h4v1h-4zM313 320h1v1h-1zM323 320h2v1h-2zM327 320h8v1h-8zM348 320h3v1h-3zM352 320h1v1h-1zM385 320h6v1h-6zM394 320h11v1h-11zM410 320h1v1h-1zM412 320h19v1h-19zM435 320h2v1h-2zM440 320h8v1h-8zM449 320h3v1h-3zM454 320h1v1h-1zM458 320h3v1h-3zM474 320h5v1h-5zM480 320h1v1h-1zM485 320h1v1h-1zM506 320h1v1h-1zM248 321h1v1h-1zM257 321h3v1h-3zM283 321h1v1h-1zM285 321h1v1h-1zM287 321h7v1h-7zM295 321h1v1h-1zM300 321h2v1h-2zM305 321h1v1h-1zM312 321h1v1h-1zM318 321h1v1h-1zM321 321h12v1h-12zM344 321h1v1h-1zM349 321h1v1h-1zM351 321h3v1h-3zM384 321h1v1h-1zM387 321h1v1h-1zM389 321h1v1h-1zM395 321h1v1h-1zM397 321h5v1h-5zM403 321h4v1h-4zM413 321h19v1h-19zM434 321h1v1h-1zM436 321h1v1h-1zM439 321h6v1h-6zM447 321h1v1h-1zM450 321h6v1h-6zM459 321h3v1h-3zM463 321h1v1h-1zM475 321h7v1h-7zM484 321h3v1h-3zM247 322h3v1h-3zM258 322h1v1h-1zM283 322h4v1h-4zM288 322h5v1h-5zM299 322h3v1h-3zM304 322h3v1h-3zM308 322h1v1h-1zM313 322h1v1h-1zM317 322h1v1h-1zM319 322h10v1h-10zM330 322h3v1h-3zM343 322h3v1h-3zM352 322h1v1h-1zM383 322h3v1h-3zM392 322h1v1h-1zM399 322h4v1h-4zM404 322h7v1h-7zM414 322h1v1h-1zM416 322h11v1h-11zM429 322h3v1h-3zM433 322h2v1h-2zM440 322h1v1h-1zM442 322h10v1h-10zM453 322h2v1h-2zM456 322h2v1h-2zM459 322h6v1h-6zM471 322h1v1h-1zM477 322h1v1h-1zM480 322h1v1h-1zM483 322h1v1h-1zM485 322h1v1h-1zM248 323h1v1h-1zM274 323h1v1h-1zM284 323h1v1h-1zM287 323h4v1h-4zM300 323h1v1h-1zM305 323h1v1h-1zM307 323h3v1h-3zM314 323h12v1h-12zM331 323h1v1h-1zM344 323h1v1h-1zM384 323h2v1h-2zM391 323h3v1h-3zM400 323h12v1h-12zM418 323h8v1h-8zM428 323h8v1h-8zM444 323h1v1h-1zM447 323h7v1h-7zM455 323h4v1h-4zM460 323h4v1h-4zM465 323h1v1h-1zM470 323h3v1h-3zM474 323h1v1h-1zM482 323h3v1h-3zM266 324h1v1h-1zM273 324h3v1h-3zM284 324h3v1h-3zM288 324h2v1h-2zM308 324h16v1h-16zM338 324h1v1h-1zM341 324h1v1h-1zM348 324h1v1h-1zM384 324h3v1h-3zM392 324h1v1h-1zM401 324h13v1h-13zM415 324h1v1h-1zM420 324h1v1h-1zM422 324h5v1h-5zM429 324h3v1h-3zM433 324h4v1h-4zM438 324h2v1h-2zM449 324h14v1h-14zM464 324h3v1h-3zM471 324h1v1h-1zM473 324h3v1h-3zM483 324h1v1h-1zM493 324h1v1h-1zM265 325h3v1h-3zM274 325h1v1h-1zM285 325h1v1h-1zM301 325h1v1h-1zM304 325h15v1h-15zM321 325h1v1h-1zM323 325h2v1h-2zM337 325h6v1h-6zM347 325h3v1h-3zM385 325h1v1h-1zM397 325h1v1h-1zM403 325h1v1h-1zM407 325h3v1h-3zM411 325h6v1h-6zM418 325h4v1h-4zM424 325h1v1h-1zM426 325h1v1h-1zM429 325h14v1h-14zM452 325h2v1h-2zM455 325h1v1h-1zM457 325h6v1h-6zM465 325h1v1h-1zM467 325h2v1h-2zM470 325h5v1h-5zM492 325h3v1h-3zM266 326h1v1h-1zM286 326h1v1h-1zM297 326h21v1h-21zM337 326h3v1h-3zM341 326h1v1h-1zM348 326h1v1h-1zM396 326h3v1h-3zM401 326h1v1h-1zM403 326h1v1h-1zM410 326h1v1h-1zM412 326h4v1h-4zM417 326h6v1h-6zM427 326h1v1h-1zM432 326h10v1h-10zM445 326h2v1h-2zM448 326h2v1h-2zM452 326h1v1h-1zM459 326h3v1h-3zM466 326h4v1h-4zM471 326h4v1h-4zM478 326h1v1h-1zM491 326h4v1h-4zM499 326h1v1h-1zM283 327h1v1h-1zM285 327h4v1h-4zM290 327h2v1h-2zM294 327h22v1h-22zM338 327h2v1h-2zM390 327h1v1h-1zM397 327h1v1h-1zM399 327h6v1h-6zM414 327h1v1h-1zM418 327h6v1h-6zM426 327h3v1h-3zM433 327h3v1h-3zM437 327h1v1h-1zM439 327h1v1h-1zM441 327h2v1h-2zM444 327h11v1h-11zM467 327h2v1h-2zM470 327h2v1h-2zM473 327h1v1h-1zM477 327h3v1h-3zM490 327h4v1h-4zM498 327h3v1h-3zM271 328h1v1h-1zM273 328h2v1h-2zM277 328h4v1h-4zM282 328h20v1h-20zM303 328h4v1h-4zM310 328h3v1h-3zM338 328h3v1h-3zM389 328h3v1h-3zM398 328h7v1h-7zM420 328h5v1h-5zM427 328h1v1h-1zM438 328h12v1h-12zM452 328h4v1h-4zM458 328h1v1h-1zM478 328h2v1h-2zM491 328h1v1h-1zM499 328h1v1h-1zM527 328h1v1h-1zM260 329h1v1h-1zM263 329h1v1h-1zM265 329h1v1h-1zM267 329h1v1h-1zM269 329h23v1h-23zM293 329h5v1h-5zM299 329h2v1h-2zM311 329h1v1h-1zM330 329h1v1h-1zM339 329h1v1h-1zM390 329h1v1h-1zM398 329h2v1h-2zM402 329h3v1h-3zM413 329h1v1h-1zM422 329h2v1h-2zM426 329h3v1h-3zM432 329h2v1h-2zM439 329h5v1h-5zM446 329h3v1h-3zM453 329h2v1h-2zM457 329h3v1h-3zM465 329h1v1h-1zM474 329h1v1h-1zM478 329h3v1h-3zM526 329h3v1h-3zM223 330h1v1h-1zM227 330h1v1h-1zM233 330h1v1h-1zM236 330h1v1h-1zM238 330h1v1h-1zM241 330h1v1h-1zM243 330h1v1h-1zM245 330h1v1h-1zM251 330h1v1h-1zM253 330h1v1h-1zM259 330h22v1h-22zM282 330h8v1h-8zM292 330h4v1h-4zM301 330h1v1h-1zM304 330h1v1h-1zM309 330h1v1h-1zM312 330h1v1h-1zM329 330h3v1h-3zM397 330h3v1h-3zM402 330h3v1h-3zM406 330h1v1h-1zM410 330h1v1h-1zM412 330h1v1h-1zM414 330h1v1h-1zM419 330h7v1h-7zM427 330h1v1h-1zM430 330h5v1h-5zM437 330h1v1h-1zM440 330h2v1h-2zM447 330h1v1h-1zM449 330h1v1h-1zM452 330h1v1h-1zM454 330h2v1h-2zM457 330h2v1h-2zM464 330h3v1h-3zM470 330h1v1h-1zM473 330h3v1h-3zM478 330h2v1h-2zM489 330h1v1h-1zM503 330h1v1h-1zM506 330h1v1h-1zM527 330h3v1h-3zM200 331h1v1h-1zM212 331h1v1h-1zM214 331h1v1h-1zM222 331h3v1h-3zM226 331h3v1h-3zM230 331h1v1h-1zM234 331h13v1h-13zM248 331h1v1h-1zM250 331h5v1h-5zM256 331h1v1h-1zM260 331h4v1h-4zM265 331h1v1h-1zM267 331h1v1h-1zM269 331h5v1h-5zM275 331h1v1h-1zM278 331h1v1h-1zM287 331h1v1h-1zM293 331h2v1h-2zM301 331h1v1h-1zM303 331h3v1h-3zM308 331h6v1h-6zM319 331h1v1h-1zM324 331h1v1h-1zM330 331h1v1h-1zM334 331h1v1h-1zM398 331h1v1h-1zM403 331h5v1h-5zM409 331h3v1h-3zM413 331h3v1h-3zM417 331h10v1h-10zM429 331h14v1h-14zM445 331h1v1h-1zM447 331h11v1h-11zM462 331h1v1h-1zM465 331h7v1h-7zM474 331h1v1h-1zM477 331h3v1h-3zM481 331h2v1h-2zM486 331h1v1h-1zM488 331h4v1h-4zM498 331h1v1h-1zM502 331h6v1h-6zM512 331h1v1h-1zM522 331h1v1h-1zM526 331h1v1h-1zM528 331h1v1h-1zM530 331h1v1h-1zM533 331h1v1h-1zM535 331h1v1h-1zM542 331h1v1h-1zM545 331h1v1h-1zM143 332h1v1h-1zM154 332h1v1h-1zM156 332h1v1h-1zM168 332h2v1h-2zM172 332h1v1h-1zM199 332h3v1h-3zM205 332h1v1h-1zM212 332h4v1h-4zM221 332h3v1h-3zM227 332h5v1h-5zM233 332h4v1h-4zM238 332h1v1h-1zM241 332h1v1h-1zM243 332h1v1h-1zM247 332h3v1h-3zM251 332h3v1h-3zM255 332h3v1h-3zM261 332h3v1h-3zM283 332h1v1h-1zM286 332h1v1h-1zM300 332h5v1h-5zM309 332h1v1h-1zM312 332h1v1h-1zM318 332h3v1h-3zM323 332h3v1h-3zM329 332h3v1h-3zM333 332h3v1h-3zM402 332h5v1h-5zM409 332h4v1h-4zM414 332h5v1h-5zM420 332h6v1h-6zM429 332h2v1h-2zM433 332h3v1h-3zM437 332h1v1h-1zM439 332h4v1h-4zM444 332h1v1h-1zM447 332h12v1h-12zM461 332h12v1h-12zM475 332h1v1h-1zM478 332h6v1h-6zM485 332h8v1h-8zM497 332h3v1h-3zM503 332h1v1h-1zM506 332h1v1h-1zM509 332h1v1h-1zM511 332h1v1h-1zM513 332h1v1h-1zM519 332h1v1h-1zM521 332h3v1h-3zM525 332h3v1h-3zM529 332h8v1h-8zM541 332h6v1h-6zM555 332h1v1h-1zM585 332h1v1h-1zM631 332h1v1h-1zM77 333h1v1h-1zM81 333h1v1h-1zM142 333h3v1h-3zM153 333h5v1h-5zM167 333h7v1h-7zM200 333h1v1h-1zM204 333h3v1h-3zM212 333h1v1h-1zM214 333h1v1h-1zM222 333h1v1h-1zM228 333h1v1h-1zM230 333h1v1h-1zM235 333h1v1h-1zM248 333h1v1h-1zM252 333h1v1h-1zM256 333h1v1h-1zM262 333h3v1h-3zM282 333h6v1h-6zM301 333h4v1h-4zM319 333h1v1h-1zM324 333h1v1h-1zM330 333h1v1h-1zM334 333h1v1h-1zM401 333h5v1h-5zM410 333h9v1h-9zM422 333h4v1h-4zM428 333h3v1h-3zM434 333h1v1h-1zM438 333h6v1h-6zM445 333h1v1h-1zM448 333h11v1h-11zM460 333h3v1h-3zM465 333h4v1h-4zM471 333h1v1h-1zM474 333h3v1h-3zM479 333h4v1h-4zM486 333h1v1h-1zM489 333h1v1h-1zM491 333h1v1h-1zM498 333h1v1h-1zM508 333h3v1h-3zM518 333h3v1h-3zM522 333h1v1h-1zM526 333h1v1h-1zM530 333h1v1h-1zM533 333h1v1h-1zM535 333h1v1h-1zM542 333h1v1h-1zM545 333h1v1h-1zM554 333h3v1h-3zM584 333h3v1h-3zM630 333h3v1h-3zM713 333h1v1h-1zM76 334h3v1h-3zM80 334h3v1h-3zM143 334h1v1h-1zM154 334h1v1h-1zM156 334h1v1h-1zM168 334h2v1h-2zM172 334h1v1h-1zM205 334h2v1h-2zM263 334h1v1h-1zM283 334h1v1h-1zM286 334h1v1h-1zM303 334h1v1h-1zM402 334h1v1h-1zM412 334h1v1h-1zM415 334h1v1h-1zM417 334h1v1h-1zM423 334h2v1h-2zM429 334h1v1h-1zM439 334h1v1h-1zM442 334h1v1h-1zM450 334h1v1h-1zM453 334h1v1h-1zM457 334h1v1h-1zM461 334h1v1h-1zM466 334h2v1h-2zM475 334h1v1h-1zM481 334h1v1h-1zM509 334h1v1h-1zM519 334h1v1h-1zM555 334h1v1h-1zM585 334h1v1h-1zM631 334h1v1h-1zM712 334h3v1h-3zM77 335h1v1h-1zM81 335h1v1h-1zM205 335h3v1h-3zM713 335h1v1h-1zM206 336h1v1h-1z"/>
<path shape-rendering="crispEdges" fill="#565c10" d="M381 178h1v1h-1zM380 179h1v1h-1zM382 179h1v1h-1zM381 180h1v1h-1zM356 182h1v1h-1zM355 183h1v1h-1zM357 183h1v1h-1zM356 184h1v1h-1zM358 184h1v1h-1zM364 189h1v1h-1zM326 190h1v1h-1zM325 191h1v1h-1zM327 191h1v1h-1zM358 191h1v1h-1zM326 192h1v1h-1zM359 192h1v1h-1zM375 192h1v1h-1zM352 193h1v1h-1zM359 193h1v1h-1zM374 193h1v1h-1zM383 193h1v1h-1zM331 194h1v1h-1zM384 194h1v1h-1zM330 195h1v1h-1zM332 195h1v1h-1zM352 195h1v1h-1zM383 195h1v1h-1zM331 196h1v1h-1zM351 196h1v1h-1zM364 196h1v1h-1zM402 196h1v1h-1zM338 197h1v1h-1zM350 197h1v1h-1zM352 197h1v1h-1zM356 197h1v1h-1zM365 197h1v1h-1zM401 197h1v1h-1zM403 197h1v1h-1zM332 198h1v1h-1zM337 198h1v1h-1zM339 198h1v1h-1zM351 198h1v1h-1zM355 198h1v1h-1zM357 198h1v1h-1zM402 198h1v1h-1zM331 199h1v1h-1zM333 199h1v1h-1zM338 199h1v1h-1zM356 199h1v1h-1zM367 199h1v1h-1zM327 200h1v1h-1zM330 200h1v1h-1zM332 200h2v1h-2zM360 200h1v1h-1zM368 200h1v1h-1zM392 200h1v1h-1zM326 201h1v1h-1zM328 201h2v1h-2zM331 201h2v1h-2zM334 201h1v1h-1zM361 201h1v1h-1zM410 201h1v1h-1zM412 201h1v1h-1zM327 202h1v1h-1zM330 202h1v1h-1zM333 202h1v1h-1zM351 202h1v1h-1zM360 202h1v1h-1zM411 202h1v1h-1zM351 203h1v1h-1zM376 203h1v1h-1zM385 203h1v1h-1zM319 204h1v1h-1zM350 204h1v1h-1zM367 204h1v1h-1zM375 204h1v1h-1zM384 204h1v1h-1zM386 204h1v1h-1zM318 205h1v1h-1zM320 205h1v1h-1zM344 205h1v1h-1zM368 205h1v1h-1zM385 205h1v1h-1zM319 206h1v1h-1zM327 206h1v1h-1zM346 206h2v1h-2zM390 206h1v1h-1zM326 207h1v1h-1zM328 207h1v1h-1zM357 207h1v1h-1zM389 207h1v1h-1zM391 207h1v1h-1zM327 208h1v1h-1zM339 208h1v1h-1zM356 208h1v1h-1zM376 208h1v1h-1zM390 208h1v1h-1zM427 208h1v1h-1zM318 209h1v1h-1zM322 209h1v1h-1zM338 209h1v1h-1zM343 209h1v1h-1zM363 209h1v1h-1zM426 209h1v1h-1zM428 209h1v1h-1zM270 210h1v1h-1zM317 210h1v1h-1zM319 210h1v1h-1zM321 210h1v1h-1zM323 210h1v1h-1zM342 210h1v1h-1zM344 210h1v1h-1zM364 210h1v1h-1zM427 210h1v1h-1zM269 211h1v1h-1zM271 211h1v1h-1zM322 211h1v1h-1zM343 211h1v1h-1zM345 211h1v1h-1zM358 211h1v1h-1zM270 212h1v1h-1zM342 212h1v1h-1zM344 212h1v1h-1zM343 213h1v1h-1zM345 213h1v1h-1zM337 214h1v1h-1zM346 214h1v1h-1zM368 214h1v1h-1zM268 215h1v1h-1zM323 215h1v1h-1zM347 215h1v1h-1zM359 215h1v1h-1zM361 215h1v1h-1zM267 216h1v1h-1zM269 216h1v1h-1zM322 216h1v1h-1zM324 216h1v1h-1zM360 216h1v1h-1zM362 216h1v1h-1zM268 217h1v1h-1zM291 217h1v1h-1zM323 217h2v1h-2zM349 217h1v1h-1zM361 217h1v1h-1zM290 218h1v1h-1zM292 218h1v1h-1zM322 218h1v1h-1zM325 218h1v1h-1zM341 218h1v1h-1zM350 218h1v1h-1zM356 218h1v1h-1zM291 219h1v1h-1zM321 219h1v1h-1zM323 219h1v1h-1zM340 219h1v1h-1zM342 219h1v1h-1zM349 219h1v1h-1zM373 219h1v1h-1zM316 220h1v1h-1zM322 220h1v1h-1zM341 220h1v1h-1zM368 220h1v1h-1zM374 220h1v1h-1zM309 221h1v1h-1zM315 221h1v1h-1zM317 221h1v1h-1zM308 222h1v1h-1zM310 222h1v1h-1zM316 222h1v1h-1zM379 222h1v1h-1zM309 223h1v1h-1zM319 223h1v1h-1zM334 223h1v1h-1zM349 223h1v1h-1zM374 223h1v1h-1zM378 223h1v1h-1zM304 224h1v1h-1zM313 224h1v1h-1zM318 224h1v1h-1zM320 224h1v1h-1zM343 224h1v1h-1zM359 224h1v1h-1zM401 224h1v1h-1zM403 224h1v1h-1zM302 225h2v1h-2zM305 225h1v1h-1zM312 225h1v1h-1zM314 225h1v1h-1zM319 225h1v1h-1zM347 225h1v1h-1zM358 225h1v1h-1zM402 225h1v1h-1zM301 226h1v1h-1zM303 226h2v1h-2zM313 226h1v1h-1zM317 226h1v1h-1zM327 226h2v1h-2zM357 226h1v1h-1zM359 226h1v1h-1zM365 226h1v1h-1zM390 226h1v1h-1zM403 226h1v1h-1zM302 227h1v1h-1zM316 227h1v1h-1zM318 227h1v1h-1zM328 227h2v1h-2zM335 227h1v1h-1zM358 227h2v1h-2zM364 227h1v1h-1zM402 227h1v1h-1zM404 227h1v1h-1zM317 228h1v1h-1zM322 228h1v1h-1zM327 228h1v1h-1zM329 228h1v1h-1zM335 228h1v1h-1zM337 228h1v1h-1zM403 228h1v1h-1zM314 229h1v1h-1zM317 229h1v1h-1zM328 229h1v1h-1zM339 229h1v1h-1zM353 229h1v1h-1zM313 230h1v1h-1zM315 230h2v1h-2zM318 230h1v1h-1zM356 230h1v1h-1zM314 231h1v1h-1zM317 231h1v1h-1zM327 231h1v1h-1zM355 231h1v1h-1zM376 231h1v1h-1zM388 231h1v1h-1zM321 232h1v1h-1zM328 232h1v1h-1zM344 232h1v1h-1zM356 232h1v1h-1zM375 232h1v1h-1zM377 232h1v1h-1zM401 232h1v1h-1zM320 233h1v1h-1zM322 233h1v1h-1zM332 233h1v1h-1zM342 233h1v1h-1zM348 233h1v1h-1zM358 233h1v1h-1zM376 233h1v1h-1zM400 233h1v1h-1zM402 233h1v1h-1zM318 234h1v1h-1zM321 234h1v1h-1zM323 234h1v1h-1zM331 234h1v1h-1zM343 234h1v1h-1zM349 234h1v1h-1zM359 234h1v1h-1zM375 234h1v1h-1zM401 234h1v1h-1zM411 234h1v1h-1zM317 235h1v1h-1zM319 235h1v1h-1zM321 235h2v1h-2zM324 235h1v1h-1zM410 235h1v1h-1zM412 235h1v1h-1zM318 236h1v1h-1zM320 236h1v1h-1zM322 236h2v1h-2zM375 236h1v1h-1zM411 236h1v1h-1zM314 237h1v1h-1zM321 237h1v1h-1zM329 237h1v1h-1zM376 237h1v1h-1zM383 237h1v1h-1zM315 238h1v1h-1zM330 238h1v1h-1zM337 238h1v1h-1zM356 238h1v1h-1zM374 238h2v1h-2zM382 238h1v1h-1zM384 238h1v1h-1zM227 239h1v1h-1zM324 239h1v1h-1zM328 239h2v1h-2zM331 239h1v1h-1zM338 239h1v1h-1zM355 239h1v1h-1zM383 239h1v1h-1zM226 240h1v1h-1zM228 240h1v1h-1zM315 240h1v1h-1zM317 240h1v1h-1zM325 240h1v1h-1zM327 240h1v1h-1zM329 240h1v1h-1zM337 240h1v1h-1zM339 240h1v1h-1zM403 240h1v1h-1zM227 241h1v1h-1zM314 241h1v1h-1zM316 241h1v1h-1zM318 241h1v1h-1zM321 241h1v1h-1zM324 241h1v1h-1zM338 241h1v1h-1zM232 242h1v1h-1zM312 242h1v1h-1zM315 242h3v1h-3zM320 242h1v1h-1zM322 242h1v1h-1zM331 242h1v1h-1zM338 242h2v1h-2zM412 242h1v1h-1zM231 243h1v1h-1zM233 243h1v1h-1zM299 243h1v1h-1zM328 243h1v1h-1zM336 243h2v1h-2zM339 243h1v1h-1zM351 243h1v1h-1zM391 243h1v1h-1zM411 243h1v1h-1zM413 243h1v1h-1zM232 244h1v1h-1zM298 244h1v1h-1zM300 244h1v1h-1zM316 244h1v1h-1zM318 244h1v1h-1zM326 244h2v1h-2zM329 244h1v1h-1zM335 244h1v1h-1zM337 244h3v1h-3zM366 244h1v1h-1zM368 244h2v1h-2zM412 244h1v1h-1zM289 245h1v1h-1zM299 245h1v1h-1zM315 245h1v1h-1zM317 245h1v1h-1zM319 245h1v1h-1zM325 245h1v1h-1zM327 245h2v1h-2zM336 245h1v1h-1zM357 245h1v1h-1zM367 245h1v1h-1zM403 245h1v1h-1zM406 245h1v1h-1zM288 246h1v1h-1zM290 246h1v1h-1zM316 246h3v1h-3zM326 246h1v1h-1zM332 246h1v1h-1zM338 246h1v1h-1zM356 246h1v1h-1zM364 246h1v1h-1zM367 246h1v1h-1zM407 246h1v1h-1zM410 246h1v1h-1zM289 247h1v1h-1zM316 247h1v1h-1zM318 247h1v1h-1zM333 247h1v1h-1zM337 247h1v1h-1zM339 247h1v1h-1zM342 247h2v1h-2zM363 247h1v1h-1zM342 248h1v1h-1zM344 248h1v1h-1zM360 248h2v1h-2zM366 248h1v1h-1zM407 248h1v1h-1zM294 249h1v1h-1zM305 249h1v1h-1zM343 249h1v1h-1zM352 249h1v1h-1zM359 249h1v1h-1zM388 249h1v1h-1zM406 249h1v1h-1zM293 250h1v1h-1zM295 250h1v1h-1zM304 250h1v1h-1zM317 250h1v1h-1zM353 250h1v1h-1zM382 250h1v1h-1zM402 250h1v1h-1zM405 250h1v1h-1zM413 250h1v1h-1zM415 250h1v1h-1zM418 250h1v1h-1zM422 250h1v1h-1zM281 251h1v1h-1zM294 251h1v1h-1zM312 251h1v1h-1zM316 251h1v1h-1zM318 251h1v1h-1zM324 251h1v1h-1zM354 251h1v1h-1zM356 251h1v1h-1zM361 251h1v1h-1zM383 251h1v1h-1zM407 251h1v1h-1zM412 251h1v1h-1zM414 251h1v1h-1zM416 251h1v1h-1zM421 251h1v1h-1zM423 251h1v1h-1zM285 252h1v1h-1zM291 252h1v1h-1zM311 252h1v1h-1zM313 252h1v1h-1zM317 252h1v1h-1zM323 252h1v1h-1zM325 252h1v1h-1zM335 252h1v1h-1zM406 252h1v1h-1zM408 252h1v1h-1zM413 252h1v1h-1zM415 252h1v1h-1zM422 252h1v1h-1zM284 253h1v1h-1zM286 253h1v1h-1zM290 253h1v1h-1zM292 253h1v1h-1zM309 253h1v1h-1zM312 253h1v1h-1zM324 253h1v1h-1zM331 253h2v1h-2zM334 253h1v1h-1zM336 253h1v1h-1zM407 253h1v1h-1zM285 254h1v1h-1zM291 254h1v1h-1zM306 254h1v1h-1zM308 254h1v1h-1zM310 254h1v1h-1zM312 254h1v1h-1zM331 254h1v1h-1zM333 254h1v1h-1zM335 254h1v1h-1zM288 255h1v1h-1zM305 255h1v1h-1zM307 255h1v1h-1zM309 255h1v1h-1zM311 255h1v1h-1zM313 255h1v1h-1zM331 255h2v1h-2zM335 255h1v1h-1zM392 255h1v1h-1zM282 256h1v1h-1zM287 256h1v1h-1zM289 256h1v1h-1zM304 256h1v1h-1zM306 256h1v1h-1zM308 256h1v1h-1zM310 256h1v1h-1zM312 256h1v1h-1zM323 256h1v1h-1zM326 256h1v1h-1zM334 256h1v1h-1zM336 256h1v1h-1zM422 256h1v1h-1zM281 257h1v1h-1zM283 257h1v1h-1zM288 257h2v1h-2zM303 257h1v1h-1zM305 257h1v1h-1zM309 257h1v1h-1zM313 257h1v1h-1zM320 257h1v1h-1zM322 257h1v1h-1zM324 257h1v1h-1zM327 257h1v1h-1zM329 257h1v1h-1zM335 257h1v1h-1zM337 257h1v1h-1zM409 257h1v1h-1zM411 257h1v1h-1zM421 257h1v1h-1zM423 257h1v1h-1zM282 258h1v1h-1zM288 258h1v1h-1zM290 258h1v1h-1zM304 258h1v1h-1zM307 258h1v1h-1zM316 258h1v1h-1zM319 258h1v1h-1zM321 258h1v1h-1zM323 258h1v1h-1zM326 258h1v1h-1zM328 258h1v1h-1zM338 258h1v1h-1zM410 258h1v1h-1zM420 258h1v1h-1zM422 258h1v1h-1zM289 259h1v1h-1zM292 259h1v1h-1zM306 259h1v1h-1zM308 259h1v1h-1zM319 259h2v1h-2zM322 259h1v1h-1zM324 259h1v1h-1zM327 259h1v1h-1zM337 259h1v1h-1zM411 259h1v1h-1zM421 259h1v1h-1zM291 260h1v1h-1zM293 260h1v1h-1zM307 260h1v1h-1zM320 260h1v1h-1zM323 260h1v1h-1zM330 260h1v1h-1zM334 260h1v1h-1zM336 260h1v1h-1zM338 260h1v1h-1zM292 261h1v1h-1zM319 261h1v1h-1zM333 261h1v1h-1zM335 261h1v1h-1zM337 261h1v1h-1zM377 261h1v1h-1zM399 261h1v1h-1zM433 261h1v1h-1zM277 262h1v1h-1zM299 262h1v1h-1zM319 262h1v1h-1zM324 262h1v1h-1zM332 262h1v1h-1zM334 262h1v1h-1zM363 262h1v1h-1zM376 262h1v1h-1zM432 262h1v1h-1zM276 263h1v1h-1zM278 263h1v1h-1zM298 263h1v1h-1zM300 263h1v1h-1zM302 263h1v1h-1zM312 263h1v1h-1zM320 263h1v1h-1zM322 263h1v1h-1zM325 263h1v1h-1zM331 263h1v1h-1zM333 263h1v1h-1zM335 263h1v1h-1zM365 263h1v1h-1zM277 264h1v1h-1zM297 264h1v1h-1zM299 264h1v1h-1zM301 264h1v1h-1zM303 264h1v1h-1zM311 264h1v1h-1zM313 264h1v1h-1zM315 264h1v1h-1zM323 264h2v1h-2zM326 264h1v1h-1zM329 264h2v1h-2zM332 264h1v1h-1zM342 264h1v1h-1zM375 264h1v1h-1zM444 264h1v1h-1zM469 264h1v1h-1zM273 265h1v1h-1zM298 265h1v1h-1zM302 265h1v1h-1zM312 265h1v1h-1zM314 265h1v1h-1zM316 265h1v1h-1zM320 265h1v1h-1zM325 265h1v1h-1zM329 265h1v1h-1zM331 265h1v1h-1zM334 265h1v1h-1zM339 265h1v1h-1zM345 265h1v1h-1zM350 265h1v1h-1zM376 265h1v1h-1zM443 265h1v1h-1zM445 265h1v1h-1zM468 265h1v1h-1zM470 265h1v1h-1zM272 266h1v1h-1zM274 266h1v1h-1zM297 266h1v1h-1zM313 266h1v1h-1zM315 266h1v1h-1zM319 266h1v1h-1zM321 266h1v1h-1zM327 266h1v1h-1zM329 266h1v1h-1zM338 266h1v1h-1zM366 266h1v1h-1zM406 266h1v1h-1zM409 266h1v1h-1zM422 266h1v1h-1zM444 266h1v1h-1zM469 266h1v1h-1zM499 266h1v1h-1zM273 267h1v1h-1zM278 267h1v1h-1zM296 267h1v1h-1zM298 267h1v1h-1zM306 267h1v1h-1zM314 267h1v1h-1zM320 267h1v1h-1zM326 267h1v1h-1zM328 267h1v1h-1zM365 267h1v1h-1zM406 267h1v1h-1zM408 267h1v1h-1zM410 267h1v1h-1zM421 267h1v1h-1zM423 267h1v1h-1zM498 267h1v1h-1zM500 267h1v1h-1zM277 268h1v1h-1zM279 268h1v1h-1zM297 268h1v1h-1zM305 268h1v1h-1zM307 268h1v1h-1zM327 268h1v1h-1zM332 268h1v1h-1zM336 268h1v1h-1zM367 268h1v1h-1zM405 268h1v1h-1zM409 268h1v1h-1zM421 268h2v1h-2zM499 268h1v1h-1zM278 269h1v1h-1zM306 269h1v1h-1zM331 269h1v1h-1zM333 269h1v1h-1zM338 269h1v1h-1zM346 269h1v1h-1zM380 269h1v1h-1zM387 269h1v1h-1zM406 269h1v1h-1zM422 269h1v1h-1zM327 270h1v1h-1zM339 270h1v1h-1zM355 270h1v1h-1zM379 270h1v1h-1zM465 270h1v1h-1zM298 271h1v1h-1zM340 271h1v1h-1zM374 271h1v1h-1zM378 271h1v1h-1zM380 271h1v1h-1zM424 271h1v1h-1zM464 271h1v1h-1zM466 271h1v1h-1zM297 272h1v1h-1zM299 272h1v1h-1zM324 272h1v1h-1zM329 272h1v1h-1zM360 272h1v1h-1zM366 272h1v1h-1zM375 272h1v1h-1zM379 272h1v1h-1zM415 272h1v1h-1zM465 272h1v1h-1zM269 273h1v1h-1zM296 273h1v1h-1zM298 273h1v1h-1zM316 273h1v1h-1zM328 273h1v1h-1zM340 273h1v1h-1zM365 273h1v1h-1zM367 273h1v1h-1zM418 273h1v1h-1zM268 274h1v1h-1zM270 274h1v1h-1zM297 274h1v1h-1zM302 274h1v1h-1zM315 274h1v1h-1zM329 274h1v1h-1zM345 274h1v1h-1zM392 274h1v1h-1zM417 274h1v1h-1zM269 275h1v1h-1zM294 275h1v1h-1zM298 275h1v1h-1zM301 275h1v1h-1zM303 275h1v1h-1zM314 275h1v1h-1zM323 275h1v1h-1zM293 276h1v1h-1zM295 276h1v1h-1zM299 276h1v1h-1zM302 276h1v1h-1zM315 276h1v1h-1zM322 276h1v1h-1zM325 276h1v1h-1zM294 277h1v1h-1zM298 277h1v1h-1zM302 277h1v1h-1zM307 277h1v1h-1zM313 277h2v1h-2zM316 277h1v1h-1zM323 277h1v1h-1zM351 277h1v1h-1zM425 277h1v1h-1zM464 277h1v1h-1zM280 278h1v1h-1zM301 278h1v1h-1zM303 278h1v1h-1zM306 278h1v1h-1zM308 278h1v1h-1zM312 278h1v1h-1zM315 278h1v1h-1zM318 278h1v1h-1zM322 278h1v1h-1zM324 278h1v1h-1zM330 278h1v1h-1zM347 278h1v1h-1zM424 278h1v1h-1zM426 278h1v1h-1zM441 278h1v1h-1zM463 278h1v1h-1zM465 278h1v1h-1zM279 279h1v1h-1zM281 279h1v1h-1zM296 279h1v1h-1zM302 279h1v1h-1zM307 279h1v1h-1zM309 279h1v1h-1zM317 279h1v1h-1zM319 279h1v1h-1zM321 279h1v1h-1zM323 279h1v1h-1zM329 279h1v1h-1zM331 279h1v1h-1zM333 279h1v1h-1zM348 279h1v1h-1zM380 279h1v1h-1zM425 279h1v1h-1zM440 279h1v1h-1zM464 279h1v1h-1zM278 280h1v1h-1zM280 280h1v1h-1zM295 280h1v1h-1zM297 280h1v1h-1zM312 280h1v1h-1zM317 280h3v1h-3zM322 280h1v1h-1zM328 280h1v1h-1zM330 280h1v1h-1zM342 280h1v1h-1zM366 280h1v1h-1zM406 280h1v1h-1zM410 280h1v1h-1zM424 280h1v1h-1zM428 280h1v1h-1zM436 280h1v1h-1zM277 281h1v1h-1zM279 281h1v1h-1zM289 281h1v1h-1zM294 281h1v1h-1zM296 281h1v1h-1zM311 281h1v1h-1zM316 281h1v1h-1zM318 281h1v1h-1zM320 281h2v1h-2zM329 281h1v1h-1zM334 281h1v1h-1zM343 281h1v1h-1zM366 281h1v1h-1zM409 281h1v1h-1zM423 281h1v1h-1zM427 281h1v1h-1zM429 281h1v1h-1zM437 281h1v1h-1zM457 281h1v1h-1zM278 282h1v1h-1zM288 282h1v1h-1zM290 282h1v1h-1zM293 282h1v1h-1zM295 282h1v1h-1zM316 282h2v1h-2zM319 282h2v1h-2zM322 282h1v1h-1zM333 282h1v1h-1zM335 282h1v1h-1zM342 282h1v1h-1zM347 282h1v1h-1zM361 282h1v1h-1zM367 282h1v1h-1zM410 282h1v1h-1zM425 282h2v1h-2zM428 282h1v1h-1zM456 282h1v1h-1zM458 282h1v1h-1zM289 283h1v1h-1zM291 283h1v1h-1zM294 283h1v1h-1zM310 283h1v1h-1zM315 283h2v1h-2zM318 283h1v1h-1zM321 283h1v1h-1zM334 283h1v1h-1zM423 283h1v1h-1zM425 283h1v1h-1zM427 283h1v1h-1zM457 283h1v1h-1zM259 284h1v1h-1zM278 284h1v1h-1zM290 284h1v1h-1zM292 284h1v1h-1zM311 284h1v1h-1zM316 284h2v1h-2zM321 284h1v1h-1zM324 284h1v1h-1zM374 284h1v1h-1zM424 284h1v1h-1zM426 284h1v1h-1zM445 284h1v1h-1zM258 285h1v1h-1zM260 285h1v1h-1zM269 285h1v1h-1zM277 285h1v1h-1zM279 285h1v1h-1zM287 285h1v1h-1zM291 285h1v1h-1zM310 285h1v1h-1zM320 285h1v1h-1zM322 285h2v1h-2zM325 285h1v1h-1zM349 285h1v1h-1zM380 285h1v1h-1zM444 285h1v1h-1zM446 285h1v1h-1zM259 286h1v1h-1zM268 286h1v1h-1zM270 286h1v1h-1zM275 286h1v1h-1zM277 286h2v1h-2zM286 286h1v1h-1zM288 286h1v1h-1zM290 286h1v1h-1zM292 286h1v1h-1zM321 286h1v1h-1zM323 286h2v1h-2zM338 286h1v1h-1zM348 286h1v1h-1zM387 286h1v1h-1zM445 286h1v1h-1zM269 287h1v1h-1zM271 287h1v1h-1zM276 287h1v1h-1zM287 287h1v1h-1zM291 287h2v1h-2zM306 287h1v1h-1zM321 287h2v1h-2zM337 287h1v1h-1zM344 287h1v1h-1zM346 287h1v1h-1zM388 287h1v1h-1zM403 287h1v1h-1zM420 287h1v1h-1zM424 287h1v1h-1zM270 288h1v1h-1zM272 288h1v1h-1zM291 288h1v1h-1zM293 288h1v1h-1zM320 288h1v1h-1zM322 288h1v1h-1zM324 288h1v1h-1zM328 288h1v1h-1zM330 288h1v1h-1zM337 288h1v1h-1zM345 288h2v1h-2zM353 288h1v1h-1zM358 288h1v1h-1zM363 288h1v1h-1zM389 288h1v1h-1zM391 288h1v1h-1zM419 288h1v1h-1zM423 288h1v1h-1zM425 288h1v1h-1zM271 289h1v1h-1zM292 289h1v1h-1zM301 289h1v1h-1zM319 289h1v1h-1zM321 289h1v1h-1zM323 289h1v1h-1zM325 289h1v1h-1zM329 289h1v1h-1zM334 289h1v1h-1zM336 289h1v1h-1zM342 289h1v1h-1zM344 289h2v1h-2zM402 289h1v1h-1zM424 289h1v1h-1zM300 290h1v1h-1zM302 290h1v1h-1zM309 290h1v1h-1zM311 290h1v1h-1zM314 290h1v1h-1zM321 290h4v1h-4zM326 290h1v1h-1zM336 290h1v1h-1zM345 290h1v1h-1zM363 290h1v1h-1zM401 290h1v1h-1zM261 291h1v1h-1zM275 291h1v1h-1zM298 291h1v1h-1zM301 291h1v1h-1zM313 291h1v1h-1zM315 291h1v1h-1zM322 291h1v1h-1zM325 291h1v1h-1zM332 291h1v1h-1zM335 291h1v1h-1zM337 291h1v1h-1zM344 291h1v1h-1zM346 291h1v1h-1zM430 291h1v1h-1zM260 292h1v1h-1zM262 292h1v1h-1zM272 292h1v1h-1zM274 292h1v1h-1zM276 292h1v1h-1zM293 292h1v1h-1zM302 292h1v1h-1zM313 292h2v1h-2zM316 292h1v1h-1zM318 292h1v1h-1zM322 292h1v1h-1zM331 292h1v1h-1zM333 292h2v1h-2zM336 292h1v1h-1zM338 292h1v1h-1zM425 292h1v1h-1zM429 292h1v1h-1zM431 292h1v1h-1zM438 292h1v1h-1zM261 293h1v1h-1zM271 293h1v1h-1zM273 293h1v1h-1zM275 293h1v1h-1zM292 293h1v1h-1zM294 293h1v1h-1zM310 293h1v1h-1zM312 293h1v1h-1zM314 293h2v1h-2zM320 293h2v1h-2zM323 293h2v1h-2zM326 293h1v1h-1zM330 293h2v1h-2zM335 293h1v1h-1zM337 293h1v1h-1zM437 293h1v1h-1zM439 293h1v1h-1zM272 294h1v1h-1zM293 294h1v1h-1zM301 294h1v1h-1zM307 294h1v1h-1zM309 294h1v1h-1zM311 294h1v1h-1zM313 294h1v1h-1zM319 294h1v1h-1zM321 294h2v1h-2zM324 294h2v1h-2zM330 294h1v1h-1zM336 294h1v1h-1zM346 294h1v1h-1zM356 294h1v1h-1zM362 294h1v1h-1zM432 294h1v1h-1zM438 294h1v1h-1zM298 295h1v1h-1zM300 295h1v1h-1zM302 295h1v1h-1zM306 295h1v1h-1zM308 295h1v1h-1zM310 295h1v1h-1zM318 295h1v1h-1zM320 295h1v1h-1zM323 295h1v1h-1zM325 295h1v1h-1zM331 295h1v1h-1zM343 295h1v1h-1zM345 295h1v1h-1zM347 295h1v1h-1zM435 295h1v1h-1zM288 296h2v1h-2zM297 296h1v1h-1zM301 296h1v1h-1zM305 296h1v1h-1zM307 296h1v1h-1zM317 296h1v1h-1zM319 296h1v1h-1zM324 296h1v1h-1zM330 296h1v1h-1zM334 296h1v1h-1zM362 296h1v1h-1zM434 296h1v1h-1zM436 296h1v1h-1zM459 296h1v1h-1zM288 297h1v1h-1zM290 297h1v1h-1zM298 297h1v1h-1zM303 297h1v1h-1zM306 297h1v1h-1zM318 297h1v1h-1zM323 297h1v1h-1zM329 297h1v1h-1zM334 297h1v1h-1zM337 297h1v1h-1zM361 297h1v1h-1zM392 297h1v1h-1zM407 297h1v1h-1zM435 297h1v1h-1zM449 297h1v1h-1zM458 297h1v1h-1zM262 298h1v1h-1zM288 298h2v1h-2zM302 298h1v1h-1zM304 298h1v1h-1zM317 298h1v1h-1zM319 298h1v1h-1zM333 298h1v1h-1zM335 298h1v1h-1zM338 298h1v1h-1zM361 298h1v1h-1zM406 298h1v1h-1zM448 298h1v1h-1zM261 299h1v1h-1zM263 299h1v1h-1zM289 299h1v1h-1zM303 299h1v1h-1zM307 299h1v1h-1zM317 299h4v1h-4zM326 299h1v1h-1zM334 299h1v1h-1zM339 299h1v1h-1zM342 299h1v1h-1zM351 299h1v1h-1zM362 299h1v1h-1zM427 299h1v1h-1zM262 300h1v1h-1zM288 300h1v1h-1zM290 300h1v1h-1zM306 300h1v1h-1zM308 300h1v1h-1zM315 300h1v1h-1zM318 300h2v1h-2zM327 300h1v1h-1zM352 300h1v1h-1zM356 300h1v1h-1zM426 300h1v1h-1zM457 300h1v1h-1zM467 300h1v1h-1zM289 301h1v1h-1zM305 301h1v1h-1zM314 301h1v1h-1zM316 301h1v1h-1zM320 301h1v1h-1zM326 301h1v1h-1zM328 301h1v1h-1zM357 301h1v1h-1zM360 301h1v1h-1zM392 301h1v1h-1zM394 301h1v1h-1zM430 301h1v1h-1zM456 301h1v1h-1zM458 301h2v1h-2zM466 301h1v1h-1zM468 301h1v1h-1zM298 302h1v1h-1zM304 302h1v1h-1zM306 302h1v1h-1zM312 302h2v1h-2zM315 302h1v1h-1zM319 302h1v1h-1zM321 302h1v1h-1zM327 302h1v1h-1zM329 302h1v1h-1zM350 302h1v1h-1zM393 302h1v1h-1zM402 302h1v1h-1zM421 302h1v1h-1zM429 302h1v1h-1zM431 302h1v1h-1zM441 302h1v1h-1zM457 302h2v1h-2zM460 302h1v1h-1zM467 302h1v1h-1zM277 303h1v1h-1zM297 303h1v1h-1zM299 303h1v1h-1zM305 303h1v1h-1zM311 303h1v1h-1zM313 303h2v1h-2zM320 303h2v1h-2zM330 303h1v1h-1zM337 303h1v1h-1zM351 303h1v1h-1zM358 303h1v1h-1zM362 303h1v1h-1zM378 303h1v1h-1zM430 303h1v1h-1zM440 303h1v1h-1zM442 303h1v1h-1zM459 303h1v1h-1zM276 304h1v1h-1zM278 304h1v1h-1zM298 304h1v1h-1zM312 304h1v1h-1zM326 304h1v1h-1zM336 304h1v1h-1zM338 304h1v1h-1zM357 304h1v1h-1zM359 304h1v1h-1zM361 304h1v1h-1zM363 304h1v1h-1zM421 304h1v1h-1zM451 304h1v1h-1zM277 305h1v1h-1zM325 305h1v1h-1zM327 305h1v1h-1zM334 305h1v1h-1zM337 305h1v1h-1zM358 305h1v1h-1zM362 305h1v1h-1zM436 305h1v1h-1zM450 305h1v1h-1zM452 305h1v1h-1zM306 306h1v1h-1zM326 306h1v1h-1zM332 306h2v1h-2zM335 306h1v1h-1zM345 306h1v1h-1zM451 306h1v1h-1zM304 307h2v1h-2zM307 307h1v1h-1zM313 307h1v1h-1zM315 307h1v1h-1zM323 307h1v1h-1zM332 307h1v1h-1zM334 307h1v1h-1zM346 307h2v1h-2zM352 307h1v1h-1zM379 307h1v1h-1zM415 307h1v1h-1zM447 307h1v1h-1zM305 308h2v1h-2zM314 308h1v1h-1zM322 308h2v1h-2zM331 308h1v1h-1zM378 308h1v1h-1zM414 308h1v1h-1zM417 308h1v1h-1zM422 308h1v1h-1zM446 308h1v1h-1zM448 308h1v1h-1zM279 309h1v1h-1zM304 309h1v1h-1zM310 309h1v1h-1zM317 309h1v1h-1zM322 309h2v1h-2zM329 309h1v1h-1zM337 309h1v1h-1zM348 309h1v1h-1zM385 309h1v1h-1zM433 309h1v1h-1zM447 309h1v1h-1zM278 310h1v1h-1zM280 310h1v1h-1zM285 310h1v1h-1zM309 310h1v1h-1zM311 310h1v1h-1zM315 310h2v1h-2zM318 310h1v1h-1zM330 310h1v1h-1zM341 310h1v1h-1zM279 311h1v1h-1zM284 311h1v1h-1zM286 311h1v1h-1zM297 311h1v1h-1zM305 311h1v1h-1zM307 311h1v1h-1zM309 311h2v1h-2zM314 311h1v1h-1zM319 311h1v1h-1zM331 311h2v1h-2zM336 311h1v1h-1zM340 311h1v1h-1zM342 311h1v1h-1zM344 311h1v1h-1zM357 311h1v1h-1zM359 311h1v1h-1zM428 311h1v1h-1zM445 311h1v1h-1zM451 311h1v1h-1zM453 311h1v1h-1zM490 311h1v1h-1zM285 312h1v1h-1zM288 312h1v1h-1zM296 312h1v1h-1zM298 312h1v1h-1zM308 312h1v1h-1zM310 312h1v1h-1zM315 312h1v1h-1zM317 312h1v1h-1zM320 312h1v1h-1zM330 312h1v1h-1zM332 312h2v1h-2zM336 312h1v1h-1zM339 312h1v1h-1zM341 312h1v1h-1zM343 312h1v1h-1zM349 312h1v1h-1zM360 312h1v1h-1zM378 312h1v1h-1zM406 312h1v1h-1zM427 312h1v1h-1zM429 312h1v1h-1zM444 312h1v1h-1zM446 312h1v1h-1zM452 312h1v1h-1zM454 312h1v1h-1zM467 312h1v1h-1zM489 312h1v1h-1zM491 312h1v1h-1zM287 313h1v1h-1zM289 313h1v1h-1zM297 313h1v1h-1zM299 313h1v1h-1zM309 313h1v1h-1zM314 313h1v1h-1zM316 313h1v1h-1zM324 313h1v1h-1zM331 313h2v1h-2zM334 313h2v1h-2zM337 313h1v1h-1zM340 313h2v1h-2zM343 313h1v1h-1zM405 313h1v1h-1zM445 313h1v1h-1zM453 313h1v1h-1zM460 313h1v1h-1zM468 313h1v1h-1zM490 313h1v1h-1zM285 314h1v1h-1zM288 314h1v1h-1zM298 314h1v1h-1zM315 314h1v1h-1zM317 314h1v1h-1zM323 314h1v1h-1zM325 314h2v1h-2zM331 314h3v1h-3zM336 314h1v1h-1zM338 314h2v1h-2zM342 314h1v1h-1zM347 314h1v1h-1zM349 314h1v1h-1zM459 314h1v1h-1zM467 314h1v1h-1zM284 315h1v1h-1zM286 315h1v1h-1zM303 315h1v1h-1zM324 315h2v1h-2zM331 315h1v1h-1zM337 315h2v1h-2zM390 315h2v1h-2zM419 315h1v1h-1zM460 315h1v1h-1zM464 315h1v1h-1zM285 316h1v1h-1zM312 316h1v1h-1zM331 316h3v1h-3zM347 316h1v1h-1zM417 316h1v1h-1zM463 316h1v1h-1zM281 317h1v1h-1zM297 317h1v1h-1zM303 317h1v1h-1zM311 317h1v1h-1zM313 317h1v1h-1zM315 317h1v1h-1zM330 317h3v1h-3zM334 317h1v1h-1zM345 317h5v1h-5zM390 317h1v1h-1zM280 318h1v1h-1zM282 318h1v1h-1zM305 318h1v1h-1zM312 318h1v1h-1zM314 318h1v1h-1zM316 318h1v1h-1zM324 318h2v1h-2zM333 318h1v1h-1zM339 318h1v1h-1zM344 318h1v1h-1zM346 318h3v1h-3zM405 318h1v1h-1zM414 318h1v1h-1zM434 318h1v1h-1zM453 318h1v1h-1zM281 319h1v1h-1zM284 319h1v1h-1zM286 319h1v1h-1zM303 319h1v1h-1zM306 319h1v1h-1zM314 319h2v1h-2zM324 319h1v1h-1zM326 319h1v1h-1zM334 319h1v1h-1zM336 319h1v1h-1zM345 319h1v1h-1zM413 319h1v1h-1zM421 319h1v1h-1zM452 319h1v1h-1zM454 319h1v1h-1zM476 319h1v1h-1zM282 320h2v1h-2zM285 320h1v1h-1zM287 320h1v1h-1zM314 320h2v1h-2zM325 320h1v1h-1zM335 320h1v1h-1zM392 320h1v1h-1zM453 320h1v1h-1zM284 321h1v1h-1zM286 321h1v1h-1zM298 321h1v1h-1zM304 321h1v1h-1zM313 321h1v1h-1zM315 321h1v1h-1zM393 321h1v1h-1zM435 321h1v1h-1zM446 321h1v1h-1zM497 321h1v1h-1zM280 322h1v1h-1zM287 322h1v1h-1zM303 322h1v1h-1zM314 322h1v1h-1zM318 322h1v1h-1zM329 322h1v1h-1zM333 322h1v1h-1zM403 322h1v1h-1zM427 322h1v1h-1zM435 322h1v1h-1zM496 322h1v1h-1zM498 322h1v1h-1zM277 323h1v1h-1zM279 323h1v1h-1zM281 323h1v1h-1zM285 323h1v1h-1zM292 323h1v1h-1zM302 323h1v1h-1zM304 323h1v1h-1zM332 323h1v1h-1zM334 323h1v1h-1zM351 323h1v1h-1zM426 323h2v1h-2zM436 323h1v1h-1zM497 323h1v1h-1zM276 324h1v1h-1zM278 324h1v1h-1zM280 324h1v1h-1zM295 324h1v1h-1zM297 324h1v1h-1zM301 324h1v1h-1zM303 324h2v1h-2zM328 324h1v1h-1zM333 324h1v1h-1zM350 324h1v1h-1zM352 324h1v1h-1zM414 324h1v1h-1zM427 324h2v1h-2zM463 324h1v1h-1zM277 325h1v1h-1zM294 325h1v1h-1zM296 325h2v1h-2zM302 325h2v1h-2zM322 325h1v1h-1zM332 325h1v1h-1zM351 325h1v1h-1zM410 325h1v1h-1zM428 325h1v1h-1zM443 325h1v1h-1zM483 325h1v1h-1zM489 325h1v1h-1zM293 326h1v1h-1zM295 326h1v1h-1zM323 326h1v1h-1zM331 326h1v1h-1zM333 326h1v1h-1zM430 326h1v1h-1zM442 326h1v1h-1zM444 326h1v1h-1zM482 326h1v1h-1zM484 326h1v1h-1zM488 326h1v1h-1zM490 326h1v1h-1zM292 327h1v1h-1zM317 327h1v1h-1zM332 327h1v1h-1zM393 327h1v1h-1zM417 327h1v1h-1zM443 327h1v1h-1zM472 327h1v1h-1zM483 327h1v1h-1zM489 327h1v1h-1zM302 328h1v1h-1zM307 328h1v1h-1zM316 328h1v1h-1zM334 328h1v1h-1zM392 328h1v1h-1zM394 328h1v1h-1zM463 328h1v1h-1zM471 328h1v1h-1zM473 328h1v1h-1zM292 329h1v1h-1zM301 329h1v1h-1zM303 329h1v1h-1zM306 329h1v1h-1zM308 329h1v1h-1zM333 329h1v1h-1zM335 329h1v1h-1zM393 329h1v1h-1zM472 329h1v1h-1zM232 330h1v1h-1zM250 330h1v1h-1zM256 330h1v1h-1zM291 330h1v1h-1zM302 330h1v1h-1zM307 330h1v1h-1zM334 330h1v1h-1zM413 330h1v1h-1zM445 330h1v1h-1zM459 330h1v1h-1zM500 330h1v1h-1zM183 331h1v1h-1zM210 331h1v1h-1zM231 331h1v1h-1zM233 331h1v1h-1zM249 331h1v1h-1zM255 331h1v1h-1zM257 331h1v1h-1zM285 331h1v1h-1zM296 331h1v1h-1zM412 331h1v1h-1zM444 331h1v1h-1zM446 331h1v1h-1zM458 331h1v1h-1zM460 331h1v1h-1zM499 331h1v1h-1zM501 331h1v1h-1zM519 331h1v1h-1zM559 331h1v1h-1zM147 332h1v1h-1zM150 332h1v1h-1zM182 332h1v1h-1zM184 332h1v1h-1zM209 332h1v1h-1zM211 332h1v1h-1zM224 332h1v1h-1zM232 332h1v1h-1zM245 332h1v1h-1zM250 332h1v1h-1zM282 332h1v1h-1zM284 332h1v1h-1zM413 332h1v1h-1zM419 332h1v1h-1zM436 332h1v1h-1zM443 332h1v1h-1zM445 332h1v1h-1zM459 332h1v1h-1zM500 332h1v1h-1zM512 332h1v1h-1zM518 332h1v1h-1zM520 332h1v1h-1zM558 332h1v1h-1zM560 332h1v1h-1zM562 332h1v1h-1zM571 332h1v1h-1zM576 332h1v1h-1zM596 332h1v1h-1zM608 332h1v1h-1zM16 333h1v1h-1zM48 333h1v1h-1zM75 333h1v1h-1zM146 333h1v1h-1zM148 333h2v1h-2zM151 333h1v1h-1zM183 333h1v1h-1zM210 333h1v1h-1zM223 333h1v1h-1zM244 333h1v1h-1zM246 333h1v1h-1zM435 333h1v1h-1zM437 333h1v1h-1zM444 333h1v1h-1zM446 333h1v1h-1zM511 333h1v1h-1zM513 333h1v1h-1zM559 333h1v1h-1zM561 333h1v1h-1zM563 333h1v1h-1zM570 333h1v1h-1zM572 333h1v1h-1zM575 333h1v1h-1zM577 333h1v1h-1zM595 333h1v1h-1zM597 333h1v1h-1zM607 333h1v1h-1zM609 333h1v1h-1zM659 333h1v1h-1zM678 333h1v1h-1zM682 333h1v1h-1zM15 334h1v1h-1zM17 334h1v1h-1zM47 334h1v1h-1zM49 334h1v1h-1zM74 334h1v1h-1zM147 334h1v1h-1zM150 334h1v1h-1zM245 334h1v1h-1zM436 334h1v1h-1zM443 334h1v1h-1zM510 334h1v1h-1zM512 334h1v1h-1zM562 334h1v1h-1zM571 334h1v1h-1zM576 334h1v1h-1zM596 334h1v1h-1zM608 334h1v1h-1zM658 334h1v1h-1zM660 334h1v1h-1zM677 334h1v1h-1zM679 334h1v1h-1zM681 334h1v1h-1zM683 334h1v1h-1zM16 335h1v1h-1zM48 335h1v1h-1zM75 335h1v1h-1zM511 335h1v1h-1zM659 335h1v1h-1zM678 335h1v1h-1zM682 335h1v1h-1z"/>
<path shape-rendering="crispEdges" fill="#b8d060" d="M381 179h1v1h-1zM356 183h1v1h-1zM326 191h1v1h-1zM375 193h1v1h-1zM383 194h1v1h-1zM331 195h1v1h-1zM365 196h1v1h-1zM351 197h1v1h-1zM402 197h1v1h-1zM338 198h1v1h-1zM356 198h1v1h-1zM332 199h1v1h-1zM327 201h1v1h-1zM330 201h1v1h-1zM333 201h1v1h-1zM392 201h1v1h-1zM411 201h1v1h-1zM375 203h1v1h-1zM385 204h1v1h-1zM319 205h1v1h-1zM327 207h1v1h-1zM390 207h1v1h-1zM339 209h1v1h-1zM427 209h1v1h-1zM322 210h1v1h-1zM343 210h1v1h-1zM270 211h1v1h-1zM346 213h1v1h-1zM268 216h1v1h-1zM323 216h1v1h-1zM361 216h1v1h-1zM325 217h1v1h-1zM291 218h1v1h-1zM322 219h1v1h-1zM341 219h1v1h-1zM316 221h1v1h-1zM309 222h1v1h-1zM379 223h1v1h-1zM319 224h1v1h-1zM304 225h1v1h-1zM313 225h1v1h-1zM302 226h1v1h-1zM358 226h1v1h-1zM317 227h1v1h-1zM327 227h1v1h-1zM336 227h1v1h-1zM403 227h1v1h-1zM328 228h1v1h-1zM314 230h1v1h-1zM317 230h1v1h-1zM356 231h1v1h-1zM343 232h1v1h-1zM376 232h1v1h-1zM321 233h1v1h-1zM349 233h1v1h-1zM359 233h1v1h-1zM401 233h1v1h-1zM318 235h1v1h-1zM323 235h1v1h-1zM411 235h1v1h-1zM321 236h1v1h-1zM383 238h1v1h-1zM227 240h1v1h-1zM324 240h1v1h-1zM328 240h1v1h-1zM338 240h1v1h-1zM315 241h1v1h-1zM317 241h1v1h-1zM232 243h1v1h-1zM338 243h1v1h-1zM412 243h1v1h-1zM299 244h1v1h-1zM328 244h1v1h-1zM336 244h1v1h-1zM316 245h1v1h-1zM318 245h1v1h-1zM326 245h1v1h-1zM289 246h1v1h-1zM357 246h1v1h-1zM406 246h1v1h-1zM317 247h1v1h-1zM338 247h1v1h-1zM343 248h1v1h-1zM406 248h1v1h-1zM304 249h1v1h-1zM402 249h1v1h-1zM294 250h1v1h-1zM317 251h1v1h-1zM382 251h1v1h-1zM413 251h1v1h-1zM415 251h1v1h-1zM422 251h1v1h-1zM312 252h1v1h-1zM324 252h1v1h-1zM407 252h1v1h-1zM285 253h1v1h-1zM291 253h1v1h-1zM335 253h1v1h-1zM309 254h1v1h-1zM332 254h1v1h-1zM306 255h1v1h-1zM312 255h1v1h-1zM288 256h1v1h-1zM309 256h1v1h-1zM282 257h1v1h-1zM304 257h1v1h-1zM323 257h1v1h-1zM334 257h1v1h-1zM410 257h1v1h-1zM422 257h1v1h-1zM289 258h1v1h-1zM320 258h1v1h-1zM327 258h1v1h-1zM411 258h1v1h-1zM307 259h1v1h-1zM316 259h1v1h-1zM323 259h1v1h-1zM420 259h1v1h-1zM292 260h1v1h-1zM319 260h1v1h-1zM337 260h1v1h-1zM334 261h1v1h-1zM277 263h1v1h-1zM299 263h1v1h-1zM319 263h1v1h-1zM332 263h1v1h-1zM298 264h1v1h-1zM302 264h1v1h-1zM312 264h1v1h-1zM325 264h1v1h-1zM315 265h1v1h-1zM330 265h1v1h-1zM444 265h1v1h-1zM469 265h1v1h-1zM273 266h1v1h-1zM314 266h1v1h-1zM320 266h1v1h-1zM339 266h1v1h-1zM297 267h1v1h-1zM327 267h1v1h-1zM409 267h1v1h-1zM422 267h1v1h-1zM499 267h1v1h-1zM278 268h1v1h-1zM306 268h1v1h-1zM331 268h1v1h-1zM406 268h1v1h-1zM339 269h1v1h-1zM421 269h1v1h-1zM379 271h1v1h-1zM465 271h1v1h-1zM298 272h1v1h-1zM297 273h1v1h-1zM315 273h1v1h-1zM329 273h1v1h-1zM269 274h1v1h-1zM302 275h1v1h-1zM294 276h1v1h-1zM315 277h1v1h-1zM302 278h1v1h-1zM307 278h1v1h-1zM323 278h1v1h-1zM425 278h1v1h-1zM440 278h1v1h-1zM464 278h1v1h-1zM280 279h1v1h-1zM318 279h1v1h-1zM322 279h1v1h-1zM330 279h1v1h-1zM347 279h1v1h-1zM296 280h1v1h-1zM278 281h1v1h-1zM317 281h1v1h-1zM319 281h1v1h-1zM428 281h1v1h-1zM289 282h1v1h-1zM294 282h1v1h-1zM321 282h1v1h-1zM334 282h1v1h-1zM457 282h1v1h-1zM317 283h1v1h-1zM426 283h1v1h-1zM291 284h1v1h-1zM310 284h1v1h-1zM259 285h1v1h-1zM278 285h1v1h-1zM321 285h1v1h-1zM324 285h1v1h-1zM445 285h1v1h-1zM269 286h1v1h-1zM276 286h1v1h-1zM287 286h1v1h-1zM291 286h1v1h-1zM322 286h1v1h-1zM337 286h1v1h-1zM271 288h1v1h-1zM292 288h1v1h-1zM321 288h1v1h-1zM329 288h1v1h-1zM336 288h1v1h-1zM344 288h1v1h-1zM424 288h1v1h-1zM322 289h1v1h-1zM324 289h1v1h-1zM301 290h1v1h-1zM325 290h1v1h-1zM302 291h1v1h-1zM314 291h1v1h-1zM328 291h1v1h-1zM336 291h1v1h-1zM261 292h1v1h-1zM275 292h1v1h-1zM332 292h1v1h-1zM335 292h1v1h-1zM272 293h1v1h-1zM293 293h1v1h-1zM313 293h1v1h-1zM322 293h1v1h-1zM336 293h1v1h-1zM438 293h1v1h-1zM308 294h1v1h-1zM310 294h1v1h-1zM320 294h1v1h-1zM323 294h1v1h-1zM326 294h1v1h-1zM301 295h1v1h-1zM319 295h1v1h-1zM306 296h1v1h-1zM318 296h1v1h-1zM329 296h1v1h-1zM435 296h1v1h-1zM289 297h1v1h-1zM448 297h1v1h-1zM303 298h1v1h-1zM318 298h1v1h-1zM334 298h1v1h-1zM337 298h1v1h-1zM407 298h1v1h-1zM262 299h1v1h-1zM338 299h1v1h-1zM289 300h1v1h-1zM307 300h1v1h-1zM320 300h1v1h-1zM427 300h1v1h-1zM315 301h1v1h-1zM327 301h1v1h-1zM393 301h1v1h-1zM457 301h1v1h-1zM467 301h1v1h-1zM305 302h1v1h-1zM314 302h1v1h-1zM320 302h1v1h-1zM430 302h1v1h-1zM459 302h1v1h-1zM298 303h1v1h-1zM312 303h1v1h-1zM350 303h1v1h-1zM441 303h1v1h-1zM277 304h1v1h-1zM337 304h1v1h-1zM358 304h1v1h-1zM362 304h1v1h-1zM326 305h1v1h-1zM451 305h1v1h-1zM330 306h1v1h-1zM334 306h1v1h-1zM306 307h1v1h-1zM314 307h1v1h-1zM331 307h1v1h-1zM378 307h1v1h-1zM304 308h1v1h-1zM447 308h1v1h-1zM279 310h1v1h-1zM310 310h1v1h-1zM317 310h1v1h-1zM329 310h1v1h-1zM285 311h1v1h-1zM337 311h1v1h-1zM341 311h1v1h-1zM297 312h1v1h-1zM309 312h1v1h-1zM319 312h1v1h-1zM331 312h1v1h-1zM340 312h1v1h-1zM445 312h1v1h-1zM453 312h1v1h-1zM490 312h1v1h-1zM288 313h1v1h-1zM315 313h1v1h-1zM333 313h1v1h-1zM336 313h1v1h-1zM391 313h1v1h-1zM299 314h1v1h-1zM324 314h1v1h-1zM337 314h1v1h-1zM460 314h1v1h-1zM285 315h1v1h-1zM463 315h1v1h-1zM330 316h1v1h-1zM312 317h1v1h-1zM314 317h1v1h-1zM333 317h1v1h-1zM281 318h1v1h-1zM315 318h1v1h-1zM345 318h1v1h-1zM325 319h1v1h-1zM453 319h1v1h-1zM284 320h1v1h-1zM286 320h1v1h-1zM393 320h1v1h-1zM299 321h1v1h-1zM314 321h1v1h-1zM428 322h1v1h-1zM497 322h1v1h-1zM280 323h1v1h-1zM333 323h1v1h-1zM277 324h1v1h-1zM302 324h1v1h-1zM351 324h1v1h-1zM295 325h1v1h-1zM294 326h1v1h-1zM332 326h1v1h-1zM443 326h1v1h-1zM483 326h1v1h-1zM489 326h1v1h-1zM316 327h1v1h-1zM393 328h1v1h-1zM472 328h1v1h-1zM302 329h1v1h-1zM307 329h1v1h-1zM334 329h1v1h-1zM232 331h1v1h-1zM459 331h1v1h-1zM500 331h1v1h-1zM183 332h1v1h-1zM210 332h1v1h-1zM285 332h1v1h-1zM446 332h1v1h-1zM559 332h1v1h-1zM147 333h1v1h-1zM150 333h1v1h-1zM245 333h1v1h-1zM436 333h1v1h-1zM512 333h1v1h-1zM562 333h1v1h-1zM571 333h1v1h-1zM576 333h1v1h-1zM596 333h1v1h-1zM608 333h1v1h-1zM16 334h1v1h-1zM48 334h1v1h-1zM75 334h1v1h-1zM511 334h1v1h-1zM659 334h1v1h-1zM678 334h1v1h-1zM682 334h1v1h-1z"/>
<rect shape-rendering="crispEdges" x="369" y="215" width="3" height="121" fill="#3a86d6"/>
<rect x="370" y="30" width="1" height="320" fill="#5a6216" shape-rendering="crispEdges"/>
<text x="360" y="14.2" font-size="12.5" text-anchor="middle" textLength="115" lengthAdjust="spacingAndGlyphs">VITESSE vs PENTE</text>
<text x="361.5" y="34.00" font-size="11" text-anchor="end">53</text>
<text x="361.5" y="63.09" font-size="11" text-anchor="end">48</text>
<text x="361.5" y="92.18" font-size="11" text-anchor="end">43</text>
<text x="361.5" y="121.27" font-size="11" text-anchor="end">38</text>
<text x="361.5" y="150.36" font-size="11" text-anchor="end">33</text>
<text x="361.5" y="179.45" font-size="11" text-anchor="end">28</text>
<text x="361.5" y="208.55" font-size="11" text-anchor="end">23</text>
<text x="361.5" y="237.64" font-size="11" text-anchor="end">18</text>
<text x="361.5" y="266.73" font-size="11" text-anchor="end">13</text>
<text x="361.5" y="295.82" font-size="11" text-anchor="end">8</text>
<text x="361.5" y="324.91" font-size="11" text-anchor="end">3</text>
<text x="361.5" y="354.00" font-size="11" text-anchor="end">3</text>
<text x="49.5" y="368" font-size="11" text-anchor="middle" textLength="17.4" lengthAdjust="spacingAndGlyphs">-40</text>
<text x="89.5" y="368" font-size="11" text-anchor="middle" textLength="17.4" lengthAdjust="spacingAndGlyphs">-35</text>
<text x="129.5" y="368" font-size="11" text-anchor="middle" textLength="17.4" lengthAdjust="spacingAndGlyphs">-30</text>
<text x="169.5" y="368" font-size="11" text-anchor="middle" textLength="17.4" lengthAdjust="spacingAndGlyphs">-25</text>
<text x="209.5" y="368" font-size="11" text-anchor="middle" textLength="17.4" lengthAdjust="spacingAndGlyphs">-20</text>
<text x="249.5" y="368" font-size="11" text-anchor="middle" textLength="17.4" lengthAdjust="spacingAndGlyphs">-15</text>
<text x="289.5" y="368" font-size="11" text-anchor="middle" textLength="17.4" lengthAdjust="spacingAndGlyphs">-10</text>
<text x="329.5" y="368" font-size="11" text-anchor="middle">-5</text>
<text x="369.5" y="368" font-size="11" text-anchor="middle">0</text>
<text x="409.5" y="368" font-size="11" text-anchor="middle">5</text>
<text x="449.5" y="368" font-size="11" text-anchor="middle" textLength="13.6" lengthAdjust="spacingAndGlyphs">10</text>
<text x="489.5" y="368" font-size="11" text-anchor="middle" textLength="13.6" lengthAdjust="spacingAndGlyphs">15</text>
<text x="529.5" y="368" font-size="11" text-anchor="middle" textLength="13.6" lengthAdjust="spacingAndGlyphs">20</text>
<text x="569.5" y="368" font-size="11" text-anchor="middle" textLength="13.6" lengthAdjust="spacingAndGlyphs">25</text>
<text x="609.5" y="368" font-size="11" text-anchor="middle" textLength="13.6" lengthAdjust="spacingAndGlyphs">30</text>
<text x="649.5" y="368" font-size="11" text-anchor="middle" textLength="13.6" lengthAdjust="spacingAndGlyphs">35</text>
<text x="689.5" y="368" font-size="11" text-anchor="middle" textLength="13.6" lengthAdjust="spacingAndGlyphs">40</text>
<text x="689.4" y="384" font-size="11" text-anchor="end" textLength="53" lengthAdjust="spacingAndGlyphs">Pente [%]</text>
<text transform="translate(341,190) rotate(-90)" x="0" y="0" font-size="11" text-anchor="middle" textLength="82" lengthAdjust="spacingAndGlyphs">Vitesse [km/h]</text>
</svg></body></html>
